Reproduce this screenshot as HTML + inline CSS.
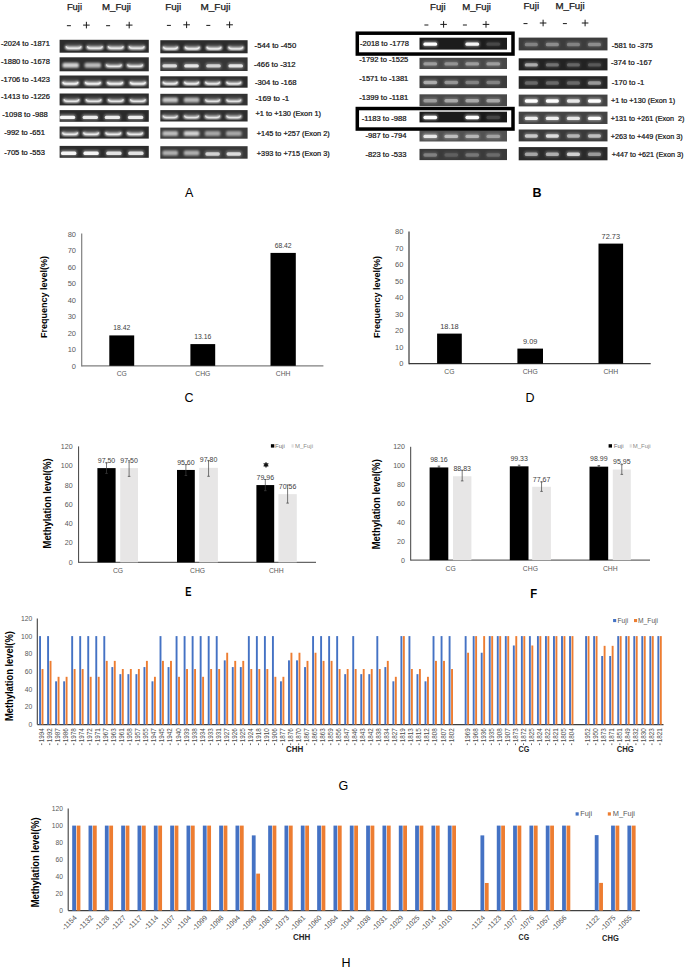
<!DOCTYPE html>
<html><head><meta charset="utf-8"><title>Figure</title>
<style>html,body{margin:0;padding:0;background:#fff;} body{width:685px;height:969px;overflow:hidden;font-family:"Liberation Sans", sans-serif;}
text{font-family:"Liberation Sans", sans-serif;}</style></head>
<body><svg width="685" height="969" viewBox="0 0 685 969" style='display:block;font-family:"Liberation Sans", sans-serif'><defs><filter id="b1" x="-50%" y="-100%" width="200%" height="300%"><feGaussianBlur stdDeviation="0.75"/></filter><filter id="b2" x="-50%" y="-100%" width="200%" height="300%"><feGaussianBlur stdDeviation="1.2"/></filter><linearGradient id="gg" x1="0" y1="0" x2="0" y2="1"><stop offset="0" stop-color="#fff" stop-opacity="0"/><stop offset="1" stop-color="#fff" stop-opacity="0.55"/></linearGradient></defs><text x="66.90" y="10.40" font-size="8.6" text-anchor="start" fill="#1a1a1a" font-weight="normal"  textLength="15.10" lengthAdjust="spacingAndGlyphs" stroke="#1a1a1a" stroke-width="0.25">Fuji</text>
<text x="102.00" y="10.40" font-size="8.6" text-anchor="start" fill="#1a1a1a" font-weight="normal"  textLength="29.00" lengthAdjust="spacingAndGlyphs" stroke="#1a1a1a" stroke-width="0.25">M_Fuji</text>
<line x1="66.90" y1="25.70" x2="70.90" y2="25.70" stroke="#1a1a1a" stroke-width="1"/>
<path d="M83.10,25.10H89.70M86.40,21.80V28.40" stroke="#1a1a1a" stroke-width="1" fill="none"/>
<line x1="106.10" y1="25.70" x2="110.10" y2="25.70" stroke="#1a1a1a" stroke-width="1"/>
<path d="M125.90,25.10H132.50M129.20,21.80V28.40" stroke="#1a1a1a" stroke-width="1" fill="none"/>
<text x="165.30" y="10.40" font-size="8.6" text-anchor="start" fill="#1a1a1a" font-weight="normal"  textLength="16.00" lengthAdjust="spacingAndGlyphs" stroke="#1a1a1a" stroke-width="0.25">Fuji</text>
<text x="200.50" y="10.40" font-size="8.6" text-anchor="start" fill="#1a1a1a" font-weight="normal"  textLength="29.90" lengthAdjust="spacingAndGlyphs" stroke="#1a1a1a" stroke-width="0.25">M_Fuji</text>
<line x1="166.90" y1="25.40" x2="170.90" y2="25.40" stroke="#1a1a1a" stroke-width="1"/>
<path d="M183.30,24.80H189.90M186.60,21.50V28.10" stroke="#1a1a1a" stroke-width="1" fill="none"/>
<line x1="206.30" y1="25.40" x2="210.30" y2="25.40" stroke="#1a1a1a" stroke-width="1"/>
<path d="M226.30,24.80H232.90M229.60,21.50V28.10" stroke="#1a1a1a" stroke-width="1" fill="none"/>
<text x="430.00" y="10.00" font-size="8.6" text-anchor="start" fill="#1a1a1a" font-weight="normal"  textLength="15.60" lengthAdjust="spacingAndGlyphs" stroke="#1a1a1a" stroke-width="0.25">Fuji</text>
<text x="462.20" y="10.00" font-size="8.6" text-anchor="start" fill="#1a1a1a" font-weight="normal"  textLength="28.80" lengthAdjust="spacingAndGlyphs" stroke="#1a1a1a" stroke-width="0.25">M_Fuji</text>
<line x1="424.40" y1="25.00" x2="428.40" y2="25.00" stroke="#1a1a1a" stroke-width="1"/>
<path d="M440.30,24.40H446.90M443.60,21.10V27.70" stroke="#1a1a1a" stroke-width="1" fill="none"/>
<line x1="462.90" y1="25.00" x2="466.90" y2="25.00" stroke="#1a1a1a" stroke-width="1"/>
<path d="M482.70,24.40H489.30M486.00,21.10V27.70" stroke="#1a1a1a" stroke-width="1" fill="none"/>
<text x="523.40" y="8.70" font-size="8.6" text-anchor="start" fill="#1a1a1a" font-weight="normal"  textLength="15.80" lengthAdjust="spacingAndGlyphs" stroke="#1a1a1a" stroke-width="0.25">Fuji</text>
<text x="555.40" y="8.70" font-size="8.6" text-anchor="start" fill="#1a1a1a" font-weight="normal"  textLength="29.20" lengthAdjust="spacingAndGlyphs" stroke="#1a1a1a" stroke-width="0.25">M_Fuji</text>
<line x1="523.50" y1="23.60" x2="527.50" y2="23.60" stroke="#1a1a1a" stroke-width="1"/>
<path d="M539.80,23.00H546.40M543.10,19.70V26.30" stroke="#1a1a1a" stroke-width="1" fill="none"/>
<line x1="562.90" y1="23.60" x2="566.90" y2="23.60" stroke="#1a1a1a" stroke-width="1"/>
<path d="M581.80,23.00H588.40M585.10,19.70V26.30" stroke="#1a1a1a" stroke-width="1" fill="none"/>
<rect x="59.60" y="39.80" width="89.20" height="12.90" fill="#2c2c2c"/>
<rect x="65.30" y="42.66" width="16.59" height="6.6" rx="1.5" fill="url(#gg)" opacity="0.90" filter="url(#b2)"/>
<path d="M66.10,46.16 Q66.50,48.36 69.40,48.26 L77.80,48.26 Q80.70,48.36 81.10,46.16" fill="none" stroke="#fff" stroke-width="2.8" opacity="0.81" filter="url(#b2)"/>
<path d="M66.10,46.16 Q66.50,48.36 69.40,48.26 L77.80,48.26 Q80.70,48.36 81.10,46.16" fill="none" stroke="#fff" stroke-width="1.2" opacity="0.63" filter="url(#b1)"/>
<rect x="86.60" y="42.66" width="16.59" height="6.6" rx="1.5" fill="url(#gg)" opacity="0.90" filter="url(#b2)"/>
<path d="M87.40,46.16 Q87.80,48.36 90.70,48.26 L99.10,48.26 Q102.00,48.36 102.40,46.16" fill="none" stroke="#fff" stroke-width="2.8" opacity="0.81" filter="url(#b2)"/>
<path d="M87.40,46.16 Q87.80,48.36 90.70,48.26 L99.10,48.26 Q102.00,48.36 102.40,46.16" fill="none" stroke="#fff" stroke-width="1.2" opacity="0.63" filter="url(#b1)"/>
<rect x="107.40" y="42.66" width="16.59" height="6.6" rx="1.5" fill="url(#gg)" opacity="0.90" filter="url(#b2)"/>
<path d="M108.20,46.16 Q108.60,48.36 111.50,48.26 L119.90,48.26 Q122.80,48.36 123.20,46.16" fill="none" stroke="#fff" stroke-width="2.8" opacity="0.81" filter="url(#b2)"/>
<path d="M108.20,46.16 Q108.60,48.36 111.50,48.26 L119.90,48.26 Q122.80,48.36 123.20,46.16" fill="none" stroke="#fff" stroke-width="1.2" opacity="0.63" filter="url(#b1)"/>
<rect x="128.40" y="42.66" width="16.59" height="6.6" rx="1.5" fill="url(#gg)" opacity="0.90" filter="url(#b2)"/>
<path d="M129.20,46.16 Q129.60,48.36 132.50,48.26 L140.90,48.26 Q143.80,48.36 144.20,46.16" fill="none" stroke="#fff" stroke-width="2.8" opacity="0.81" filter="url(#b2)"/>
<path d="M129.20,46.16 Q129.60,48.36 132.50,48.26 L140.90,48.26 Q143.80,48.36 144.20,46.16" fill="none" stroke="#fff" stroke-width="1.2" opacity="0.63" filter="url(#b1)"/>
<rect x="59.60" y="57.30" width="89.20" height="14.00" fill="#2e2e2e"/>
<rect x="62.50" y="62.66" width="16.39" height="5" rx="1.5" fill="#fff" opacity="0.79" filter="url(#b2)"/>
<rect x="84.60" y="62.66" width="16.39" height="5" rx="1.5" fill="#fff" opacity="0.68" filter="url(#b2)"/>
<rect x="105.60" y="60.86" width="16.59" height="6.6" rx="1.5" fill="url(#gg)" opacity="0.85" filter="url(#b2)"/>
<path d="M106.40,64.36 Q106.80,66.56 109.70,66.46 L118.10,66.46 Q121.00,66.56 121.40,64.36" fill="none" stroke="#fff" stroke-width="2.8" opacity="0.77" filter="url(#b2)"/>
<path d="M106.40,64.36 Q106.80,66.56 109.70,66.46 L118.10,66.46 Q121.00,66.56 121.40,64.36" fill="none" stroke="#fff" stroke-width="1.2" opacity="0.59" filter="url(#b1)"/>
<rect x="126.80" y="60.86" width="16.59" height="6.6" rx="1.5" fill="url(#gg)" opacity="0.85" filter="url(#b2)"/>
<path d="M127.60,64.36 Q128.00,66.56 130.90,66.46 L139.30,66.46 Q142.20,66.56 142.60,64.36" fill="none" stroke="#fff" stroke-width="2.8" opacity="0.77" filter="url(#b2)"/>
<path d="M127.60,64.36 Q128.00,66.56 130.90,66.46 L139.30,66.46 Q142.20,66.56 142.60,64.36" fill="none" stroke="#fff" stroke-width="1.2" opacity="0.59" filter="url(#b1)"/>
<rect x="59.60" y="75.50" width="89.20" height="12.90" fill="#303030"/>
<rect x="62.10" y="78.36" width="16.59" height="6.6" rx="1.5" fill="url(#gg)" opacity="1.00" filter="url(#b2)"/>
<path d="M62.90,81.86 Q63.30,84.06 66.20,83.96 L74.60,83.96 Q77.50,84.06 77.90,81.86" fill="none" stroke="#fff" stroke-width="2.8" opacity="0.90" filter="url(#b2)"/>
<path d="M62.90,81.86 Q63.30,84.06 66.20,83.96 L74.60,83.96 Q77.50,84.06 77.90,81.86" fill="none" stroke="#fff" stroke-width="1.2" opacity="0.70" filter="url(#b1)"/>
<rect x="84.60" y="78.36" width="16.59" height="6.6" rx="1.5" fill="url(#gg)" opacity="1.00" filter="url(#b2)"/>
<path d="M85.40,81.86 Q85.80,84.06 88.70,83.96 L97.10,83.96 Q100.00,84.06 100.40,81.86" fill="none" stroke="#fff" stroke-width="2.8" opacity="0.90" filter="url(#b2)"/>
<path d="M85.40,81.86 Q85.80,84.06 88.70,83.96 L97.10,83.96 Q100.00,84.06 100.40,81.86" fill="none" stroke="#fff" stroke-width="1.2" opacity="0.70" filter="url(#b1)"/>
<rect x="106.80" y="78.36" width="16.59" height="6.6" rx="1.5" fill="url(#gg)" opacity="1.00" filter="url(#b2)"/>
<path d="M107.60,81.86 Q108.00,84.06 110.90,83.96 L119.30,83.96 Q122.20,84.06 122.60,81.86" fill="none" stroke="#fff" stroke-width="2.8" opacity="0.90" filter="url(#b2)"/>
<path d="M107.60,81.86 Q108.00,84.06 110.90,83.96 L119.30,83.96 Q122.20,84.06 122.60,81.86" fill="none" stroke="#fff" stroke-width="1.2" opacity="0.70" filter="url(#b1)"/>
<rect x="129.60" y="78.36" width="16.59" height="6.6" rx="1.5" fill="url(#gg)" opacity="1.00" filter="url(#b2)"/>
<path d="M130.40,81.86 Q130.80,84.06 133.70,83.96 L142.10,83.96 Q145.00,84.06 145.40,81.86" fill="none" stroke="#fff" stroke-width="2.8" opacity="0.90" filter="url(#b2)"/>
<path d="M130.40,81.86 Q130.80,84.06 133.70,83.96 L142.10,83.96 Q145.00,84.06 145.40,81.86" fill="none" stroke="#fff" stroke-width="1.2" opacity="0.70" filter="url(#b1)"/>
<rect x="59.60" y="93.50" width="89.20" height="11.90" fill="#2c2c2c"/>
<rect x="63.20" y="95.72" width="16.59" height="6.6" rx="1.5" fill="url(#gg)" opacity="0.85" filter="url(#b2)"/>
<path d="M64.00,99.22 Q64.40,101.42 67.30,101.32 L75.70,101.32 Q78.60,101.42 79.00,99.22" fill="none" stroke="#fff" stroke-width="2.8" opacity="0.77" filter="url(#b2)"/>
<path d="M64.00,99.22 Q64.40,101.42 67.30,101.32 L75.70,101.32 Q78.60,101.42 79.00,99.22" fill="none" stroke="#fff" stroke-width="1.2" opacity="0.59" filter="url(#b1)"/>
<rect x="85.30" y="95.72" width="16.59" height="6.6" rx="1.5" fill="url(#gg)" opacity="0.85" filter="url(#b2)"/>
<path d="M86.10,99.22 Q86.50,101.42 89.40,101.32 L97.80,101.32 Q100.70,101.42 101.10,99.22" fill="none" stroke="#fff" stroke-width="2.8" opacity="0.77" filter="url(#b2)"/>
<path d="M86.10,99.22 Q86.50,101.42 89.40,101.32 L97.80,101.32 Q100.70,101.42 101.10,99.22" fill="none" stroke="#fff" stroke-width="1.2" opacity="0.59" filter="url(#b1)"/>
<rect x="107.50" y="95.72" width="16.59" height="6.6" rx="1.5" fill="url(#gg)" opacity="0.85" filter="url(#b2)"/>
<path d="M108.30,99.22 Q108.70,101.42 111.60,101.32 L120.00,101.32 Q122.90,101.42 123.30,99.22" fill="none" stroke="#fff" stroke-width="2.8" opacity="0.77" filter="url(#b2)"/>
<path d="M108.30,99.22 Q108.70,101.42 111.60,101.32 L120.00,101.32 Q122.90,101.42 123.30,99.22" fill="none" stroke="#fff" stroke-width="1.2" opacity="0.59" filter="url(#b1)"/>
<rect x="129.60" y="95.72" width="16.59" height="6.6" rx="1.5" fill="url(#gg)" opacity="0.85" filter="url(#b2)"/>
<path d="M130.40,99.22 Q130.80,101.42 133.70,101.32 L142.10,101.32 Q145.00,101.42 145.40,99.22" fill="none" stroke="#fff" stroke-width="2.8" opacity="0.77" filter="url(#b2)"/>
<path d="M130.40,99.22 Q130.80,101.42 133.70,101.32 L142.10,101.32 Q145.00,101.42 145.40,99.22" fill="none" stroke="#fff" stroke-width="1.2" opacity="0.59" filter="url(#b1)"/>
<rect x="59.60" y="110.10" width="89.20" height="11.70" fill="#2a2a2a"/>
<rect x="59.10" y="114.19" width="16.79" height="6" rx="2" fill="#fff" opacity="0.38" filter="url(#b2)"/>
<rect x="59.80" y="115.69" width="15.39" height="3.4" rx="1.6" fill="#fff" opacity="0.94" filter="url(#b1)"/>
<rect x="81.90" y="114.19" width="16.79" height="6" rx="2" fill="#fff" opacity="0.36" filter="url(#b2)"/>
<rect x="82.60" y="115.69" width="15.39" height="3.4" rx="1.6" fill="#fff" opacity="0.87" filter="url(#b1)"/>
<rect x="104.00" y="114.19" width="16.79" height="6" rx="2" fill="#fff" opacity="0.36" filter="url(#b2)"/>
<rect x="104.70" y="115.69" width="15.39" height="3.4" rx="1.6" fill="#fff" opacity="0.87" filter="url(#b1)"/>
<rect x="127.20" y="114.19" width="16.79" height="6" rx="2" fill="#fff" opacity="0.36" filter="url(#b2)"/>
<rect x="127.90" y="115.69" width="15.39" height="3.4" rx="1.6" fill="#fff" opacity="0.87" filter="url(#b1)"/>
<rect x="59.60" y="126.50" width="89.20" height="12.10" fill="#2c2c2c"/>
<rect x="61.80" y="128.84" width="16.59" height="6.6" rx="1.5" fill="url(#gg)" opacity="0.90" filter="url(#b2)"/>
<path d="M62.60,132.34 Q63.00,134.54 65.90,134.44 L74.30,134.44 Q77.20,134.54 77.60,132.34" fill="none" stroke="#fff" stroke-width="2.8" opacity="0.81" filter="url(#b2)"/>
<path d="M62.60,132.34 Q63.00,134.54 65.90,134.44 L74.30,134.44 Q77.20,134.54 77.60,132.34" fill="none" stroke="#fff" stroke-width="1.2" opacity="0.63" filter="url(#b1)"/>
<rect x="82.80" y="128.84" width="16.59" height="6.6" rx="1.5" fill="url(#gg)" opacity="0.90" filter="url(#b2)"/>
<path d="M83.60,132.34 Q84.00,134.54 86.90,134.44 L95.30,134.44 Q98.20,134.54 98.60,132.34" fill="none" stroke="#fff" stroke-width="2.8" opacity="0.81" filter="url(#b2)"/>
<path d="M83.60,132.34 Q84.00,134.54 86.90,134.44 L95.30,134.44 Q98.20,134.54 98.60,132.34" fill="none" stroke="#fff" stroke-width="1.2" opacity="0.63" filter="url(#b1)"/>
<rect x="105.00" y="128.84" width="16.59" height="6.6" rx="1.5" fill="url(#gg)" opacity="0.90" filter="url(#b2)"/>
<path d="M105.80,132.34 Q106.20,134.54 109.10,134.44 L117.50,134.44 Q120.40,134.54 120.80,132.34" fill="none" stroke="#fff" stroke-width="2.8" opacity="0.81" filter="url(#b2)"/>
<path d="M105.80,132.34 Q106.20,134.54 109.10,134.44 L117.50,134.44 Q120.40,134.54 120.80,132.34" fill="none" stroke="#fff" stroke-width="1.2" opacity="0.63" filter="url(#b1)"/>
<rect x="126.80" y="128.84" width="16.59" height="6.6" rx="1.5" fill="url(#gg)" opacity="0.90" filter="url(#b2)"/>
<path d="M127.60,132.34 Q128.00,134.54 130.90,134.44 L139.30,134.44 Q142.20,134.54 142.60,132.34" fill="none" stroke="#fff" stroke-width="2.8" opacity="0.81" filter="url(#b2)"/>
<path d="M127.60,132.34 Q128.00,134.54 130.90,134.44 L139.30,134.44 Q142.20,134.54 142.60,132.34" fill="none" stroke="#fff" stroke-width="1.2" opacity="0.63" filter="url(#b1)"/>
<rect x="59.60" y="145.90" width="89.20" height="11.90" fill="#2c2c2c"/>
<rect x="60.30" y="150.12" width="16.79" height="6" rx="2" fill="#fff" opacity="0.38" filter="url(#b2)"/>
<rect x="61.00" y="151.62" width="15.39" height="3.4" rx="1.6" fill="#fff" opacity="0.94" filter="url(#b1)"/>
<rect x="82.70" y="150.12" width="16.79" height="6" rx="2" fill="#fff" opacity="0.38" filter="url(#b2)"/>
<rect x="83.40" y="151.62" width="15.39" height="3.4" rx="1.6" fill="#fff" opacity="0.94" filter="url(#b1)"/>
<rect x="105.50" y="150.12" width="16.79" height="6" rx="2" fill="#fff" opacity="0.34" filter="url(#b2)"/>
<rect x="106.20" y="151.62" width="15.39" height="3.4" rx="1.6" fill="#fff" opacity="0.81" filter="url(#b1)"/>
<rect x="127.50" y="150.12" width="16.79" height="6" rx="2" fill="#fff" opacity="0.34" filter="url(#b2)"/>
<rect x="128.20" y="151.62" width="15.39" height="3.4" rx="1.6" fill="#fff" opacity="0.81" filter="url(#b1)"/>
<rect x="160.30" y="40.20" width="87.30" height="13.10" fill="#2c2c2c"/>
<rect x="162.61" y="43.18" width="15.79" height="6.6" rx="1.5" fill="url(#gg)" opacity="0.95" filter="url(#b2)"/>
<path d="M163.41,46.68 Q163.81,48.88 166.71,48.78 L174.29,48.78 Q177.19,48.88 177.59,46.68" fill="none" stroke="#fff" stroke-width="2.8" opacity="0.85" filter="url(#b2)"/>
<path d="M163.41,46.68 Q163.81,48.88 166.71,48.78 L174.29,48.78 Q177.19,48.88 177.59,46.68" fill="none" stroke="#fff" stroke-width="1.2" opacity="0.66" filter="url(#b1)"/>
<rect x="184.41" y="43.18" width="15.79" height="6.6" rx="1.5" fill="url(#gg)" opacity="0.95" filter="url(#b2)"/>
<path d="M185.21,46.68 Q185.61,48.88 188.51,48.78 L196.09,48.78 Q198.99,48.88 199.39,46.68" fill="none" stroke="#fff" stroke-width="2.8" opacity="0.85" filter="url(#b2)"/>
<path d="M185.21,46.68 Q185.61,48.88 188.51,48.78 L196.09,48.78 Q198.99,48.88 199.39,46.68" fill="none" stroke="#fff" stroke-width="1.2" opacity="0.66" filter="url(#b1)"/>
<rect x="206.11" y="43.18" width="15.79" height="6.6" rx="1.5" fill="url(#gg)" opacity="0.95" filter="url(#b2)"/>
<path d="M206.91,46.68 Q207.31,48.88 210.21,48.78 L217.79,48.78 Q220.69,48.88 221.09,46.68" fill="none" stroke="#fff" stroke-width="2.8" opacity="0.85" filter="url(#b2)"/>
<path d="M206.91,46.68 Q207.31,48.88 210.21,48.78 L217.79,48.78 Q220.69,48.88 221.09,46.68" fill="none" stroke="#fff" stroke-width="1.2" opacity="0.66" filter="url(#b1)"/>
<rect x="227.91" y="43.18" width="15.79" height="6.6" rx="1.5" fill="url(#gg)" opacity="0.90" filter="url(#b2)"/>
<path d="M228.71,46.68 Q229.11,48.88 232.01,48.78 L239.59,48.78 Q242.49,48.88 242.89,46.68" fill="none" stroke="#fff" stroke-width="2.8" opacity="0.81" filter="url(#b2)"/>
<path d="M228.71,46.68 Q229.11,48.88 232.01,48.78 L239.59,48.78 Q242.49,48.88 242.89,46.68" fill="none" stroke="#fff" stroke-width="1.2" opacity="0.63" filter="url(#b1)"/>
<rect x="160.30" y="57.40" width="87.30" height="13.60" fill="#363636"/>
<rect x="161.71" y="62.70" width="15.99" height="6" rx="2" fill="#fff" opacity="0.32" filter="url(#b2)"/>
<rect x="162.41" y="64.20" width="14.59" height="3.4" rx="1.6" fill="#fff" opacity="0.75" filter="url(#b1)"/>
<rect x="183.51" y="62.70" width="15.99" height="6" rx="2" fill="#fff" opacity="0.34" filter="url(#b2)"/>
<rect x="184.21" y="64.20" width="14.59" height="3.4" rx="1.6" fill="#fff" opacity="0.81" filter="url(#b1)"/>
<rect x="205.51" y="62.70" width="15.99" height="6" rx="2" fill="#fff" opacity="0.30" filter="url(#b2)"/>
<rect x="206.21" y="64.20" width="14.59" height="3.4" rx="1.6" fill="#fff" opacity="0.69" filter="url(#b1)"/>
<rect x="227.71" y="62.70" width="15.99" height="6" rx="2" fill="#fff" opacity="0.34" filter="url(#b2)"/>
<rect x="228.41" y="64.20" width="14.59" height="3.4" rx="1.6" fill="#fff" opacity="0.81" filter="url(#b1)"/>
<rect x="160.30" y="76.30" width="87.30" height="11.40" fill="#2c2c2c"/>
<rect x="162.31" y="78.20" width="15.79" height="6.6" rx="1.5" fill="url(#gg)" opacity="0.95" filter="url(#b2)"/>
<path d="M163.11,81.70 Q163.51,83.90 166.41,83.80 L173.99,83.80 Q176.89,83.90 177.29,81.70" fill="none" stroke="#fff" stroke-width="2.8" opacity="0.85" filter="url(#b2)"/>
<path d="M163.11,81.70 Q163.51,83.90 166.41,83.80 L173.99,83.80 Q176.89,83.90 177.29,81.70" fill="none" stroke="#fff" stroke-width="1.2" opacity="0.66" filter="url(#b1)"/>
<rect x="183.71" y="78.20" width="15.79" height="6.6" rx="1.5" fill="url(#gg)" opacity="0.95" filter="url(#b2)"/>
<path d="M184.51,81.70 Q184.91,83.90 187.81,83.80 L195.39,83.80 Q198.29,83.90 198.69,81.70" fill="none" stroke="#fff" stroke-width="2.8" opacity="0.85" filter="url(#b2)"/>
<path d="M184.51,81.70 Q184.91,83.90 187.81,83.80 L195.39,83.80 Q198.29,83.90 198.69,81.70" fill="none" stroke="#fff" stroke-width="1.2" opacity="0.66" filter="url(#b1)"/>
<rect x="204.71" y="78.20" width="15.79" height="6.6" rx="1.5" fill="url(#gg)" opacity="0.90" filter="url(#b2)"/>
<path d="M205.51,81.70 Q205.91,83.90 208.81,83.80 L216.39,83.80 Q219.29,83.90 219.69,81.70" fill="none" stroke="#fff" stroke-width="2.8" opacity="0.81" filter="url(#b2)"/>
<path d="M205.51,81.70 Q205.91,83.90 208.81,83.80 L216.39,83.80 Q219.29,83.90 219.69,81.70" fill="none" stroke="#fff" stroke-width="1.2" opacity="0.63" filter="url(#b1)"/>
<rect x="225.91" y="78.20" width="15.79" height="6.6" rx="1.5" fill="url(#gg)" opacity="0.90" filter="url(#b2)"/>
<path d="M226.71,81.70 Q227.11,83.90 230.01,83.80 L237.59,83.80 Q240.49,83.90 240.89,81.70" fill="none" stroke="#fff" stroke-width="2.8" opacity="0.81" filter="url(#b2)"/>
<path d="M226.71,81.70 Q227.11,83.90 230.01,83.80 L237.59,83.80 Q240.49,83.90 240.89,81.70" fill="none" stroke="#fff" stroke-width="1.2" opacity="0.63" filter="url(#b1)"/>
<rect x="160.30" y="93.80" width="87.30" height="11.60" fill="#333333"/>
<rect x="162.41" y="97.62" width="15.59" height="5" rx="1.5" fill="#fff" opacity="0.72" filter="url(#b2)"/>
<rect x="183.81" y="97.62" width="15.59" height="5" rx="1.5" fill="#fff" opacity="0.66" filter="url(#b2)"/>
<rect x="204.71" y="95.82" width="15.79" height="6.6" rx="1.5" fill="url(#gg)" opacity="0.80" filter="url(#b2)"/>
<path d="M205.51,99.32 Q205.91,101.52 208.81,101.42 L216.39,101.42 Q219.29,101.52 219.69,99.32" fill="none" stroke="#fff" stroke-width="2.8" opacity="0.72" filter="url(#b2)"/>
<path d="M205.51,99.32 Q205.91,101.52 208.81,101.42 L216.39,101.42 Q219.29,101.52 219.69,99.32" fill="none" stroke="#fff" stroke-width="1.2" opacity="0.56" filter="url(#b1)"/>
<rect x="225.91" y="95.82" width="15.79" height="6.6" rx="1.5" fill="url(#gg)" opacity="0.80" filter="url(#b2)"/>
<path d="M226.71,99.32 Q227.11,101.52 230.01,101.42 L237.59,101.42 Q240.49,101.52 240.89,99.32" fill="none" stroke="#fff" stroke-width="2.8" opacity="0.72" filter="url(#b2)"/>
<path d="M226.71,99.32 Q227.11,101.52 230.01,101.42 L237.59,101.42 Q240.49,101.52 240.89,99.32" fill="none" stroke="#fff" stroke-width="1.2" opacity="0.56" filter="url(#b1)"/>
<rect x="160.30" y="110.10" width="87.30" height="11.40" fill="#2e2e2e"/>
<rect x="162.31" y="112.00" width="15.79" height="6.6" rx="1.5" fill="url(#gg)" opacity="0.85" filter="url(#b2)"/>
<path d="M163.11,115.50 Q163.51,117.70 166.41,117.60 L173.99,117.60 Q176.89,117.70 177.29,115.50" fill="none" stroke="#fff" stroke-width="2.8" opacity="0.77" filter="url(#b2)"/>
<path d="M163.11,115.50 Q163.51,117.70 166.41,117.60 L173.99,117.60 Q176.89,117.70 177.29,115.50" fill="none" stroke="#fff" stroke-width="1.2" opacity="0.59" filter="url(#b1)"/>
<rect x="183.71" y="112.00" width="15.79" height="6.6" rx="1.5" fill="url(#gg)" opacity="0.85" filter="url(#b2)"/>
<path d="M184.51,115.50 Q184.91,117.70 187.81,117.60 L195.39,117.60 Q198.29,117.70 198.69,115.50" fill="none" stroke="#fff" stroke-width="2.8" opacity="0.77" filter="url(#b2)"/>
<path d="M184.51,115.50 Q184.91,117.70 187.81,117.60 L195.39,117.60 Q198.29,117.70 198.69,115.50" fill="none" stroke="#fff" stroke-width="1.2" opacity="0.59" filter="url(#b1)"/>
<rect x="204.71" y="112.00" width="15.79" height="6.6" rx="1.5" fill="url(#gg)" opacity="0.85" filter="url(#b2)"/>
<path d="M205.51,115.50 Q205.91,117.70 208.81,117.60 L216.39,117.60 Q219.29,117.70 219.69,115.50" fill="none" stroke="#fff" stroke-width="2.8" opacity="0.77" filter="url(#b2)"/>
<path d="M205.51,115.50 Q205.91,117.70 208.81,117.60 L216.39,117.60 Q219.29,117.70 219.69,115.50" fill="none" stroke="#fff" stroke-width="1.2" opacity="0.59" filter="url(#b1)"/>
<rect x="225.91" y="112.00" width="15.79" height="6.6" rx="1.5" fill="url(#gg)" opacity="0.85" filter="url(#b2)"/>
<path d="M226.71,115.50 Q227.11,117.70 230.01,117.60 L237.59,117.60 Q240.49,117.70 240.89,115.50" fill="none" stroke="#fff" stroke-width="2.8" opacity="0.77" filter="url(#b2)"/>
<path d="M226.71,115.50 Q227.11,117.70 230.01,117.60 L237.59,117.60 Q240.49,117.70 240.89,115.50" fill="none" stroke="#fff" stroke-width="1.2" opacity="0.59" filter="url(#b1)"/>
<rect x="160.30" y="127.60" width="87.30" height="11.10" fill="#3c3c3c"/>
<rect x="162.41" y="131.10" width="15.59" height="5" rx="1.5" fill="#fff" opacity="0.66" filter="url(#b2)"/>
<rect x="183.81" y="131.10" width="15.59" height="5" rx="1.5" fill="#fff" opacity="0.77" filter="url(#b2)"/>
<rect x="204.81" y="131.10" width="15.59" height="5" rx="1.5" fill="#fff" opacity="0.55" filter="url(#b2)"/>
<rect x="226.01" y="131.10" width="15.59" height="5" rx="1.5" fill="#fff" opacity="0.55" filter="url(#b2)"/>
<rect x="160.30" y="146.20" width="87.30" height="12.50" fill="#383838"/>
<rect x="162.41" y="150.60" width="15.59" height="5" rx="1.5" fill="#fff" opacity="0.61" filter="url(#b2)"/>
<rect x="183.81" y="150.60" width="15.59" height="5" rx="1.5" fill="#fff" opacity="0.61" filter="url(#b2)"/>
<rect x="204.61" y="150.80" width="15.99" height="6" rx="2" fill="#fff" opacity="0.30" filter="url(#b2)"/>
<rect x="205.31" y="152.30" width="14.59" height="3.4" rx="1.6" fill="#fff" opacity="0.69" filter="url(#b1)"/>
<rect x="225.81" y="150.80" width="15.99" height="6" rx="2" fill="#fff" opacity="0.32" filter="url(#b2)"/>
<rect x="226.51" y="152.30" width="14.59" height="3.4" rx="1.6" fill="#fff" opacity="0.75" filter="url(#b1)"/>
<text x="1.00" y="46.00" font-size="7.6" text-anchor="start" fill="#111" font-weight="normal"  textLength="49.00" lengthAdjust="spacingAndGlyphs" stroke="#111" stroke-width="0.22">-2024 to -1871</text>
<text x="1.00" y="63.70" font-size="7.6" text-anchor="start" fill="#111" font-weight="normal"  textLength="49.00" lengthAdjust="spacingAndGlyphs" stroke="#111" stroke-width="0.22">-1880 to -1678</text>
<text x="1.00" y="81.70" font-size="7.6" text-anchor="start" fill="#111" font-weight="normal"  textLength="49.00" lengthAdjust="spacingAndGlyphs" stroke="#111" stroke-width="0.22">-1706 to -1423</text>
<text x="1.00" y="99.30" font-size="7.6" text-anchor="start" fill="#111" font-weight="normal"  textLength="49.00" lengthAdjust="spacingAndGlyphs" stroke="#111" stroke-width="0.22">-1413 to -1226</text>
<text x="2.30" y="116.70" font-size="7.6" text-anchor="start" fill="#111" font-weight="normal"  textLength="45.60" lengthAdjust="spacingAndGlyphs" stroke="#111" stroke-width="0.22">-1098 to -988</text>
<text x="4.20" y="134.50" font-size="7.6" text-anchor="start" fill="#111" font-weight="normal"  textLength="40.80" lengthAdjust="spacingAndGlyphs" stroke="#111" stroke-width="0.22">-992 to -651</text>
<text x="4.20" y="154.70" font-size="7.6" text-anchor="start" fill="#111" font-weight="normal"  textLength="40.80" lengthAdjust="spacingAndGlyphs" stroke="#111" stroke-width="0.22">-705 to -553</text>
<text x="254.60" y="47.90" font-size="7.6" text-anchor="start" fill="#111" font-weight="normal"  textLength="41.60" lengthAdjust="spacingAndGlyphs" stroke="#111" stroke-width="0.22">-544 to -450</text>
<text x="254.00" y="67.30" font-size="7.6" text-anchor="start" fill="#111" font-weight="normal"  textLength="41.60" lengthAdjust="spacingAndGlyphs" stroke="#111" stroke-width="0.22">-466 to -312</text>
<text x="254.90" y="85.10" font-size="7.6" text-anchor="start" fill="#111" font-weight="normal"  textLength="41.60" lengthAdjust="spacingAndGlyphs" stroke="#111" stroke-width="0.22">-304 to -168</text>
<text x="255.40" y="101.20" font-size="7.6" text-anchor="start" fill="#111" font-weight="normal"  textLength="33.80" lengthAdjust="spacingAndGlyphs" stroke="#111" stroke-width="0.22">-169 to -1</text>
<text x="255.40" y="116.40" font-size="7.6" text-anchor="start" fill="#111" font-weight="normal"  textLength="65.60" lengthAdjust="spacingAndGlyphs" stroke="#111" stroke-width="0.22">+1 to +130 (Exon 1)</text>
<text x="256.80" y="135.70" font-size="7.6" text-anchor="start" fill="#111" font-weight="normal"  textLength="72.90" lengthAdjust="spacingAndGlyphs" stroke="#111" stroke-width="0.22">+145 to +257 (Exon 2)</text>
<text x="256.80" y="156.10" font-size="7.6" text-anchor="start" fill="#111" font-weight="normal"  textLength="72.90" lengthAdjust="spacingAndGlyphs" stroke="#111" stroke-width="0.22">+393 to +715 (Exon 3)</text>
<rect x="419.50" y="37.70" width="87.50" height="11.90" fill="#1c1c1c"/>
<rect x="422.69" y="40.96" width="15.15" height="6" rx="2" fill="#fff" opacity="0.40" filter="url(#b2)"/>
<rect x="423.39" y="42.46" width="13.75" height="3.4" rx="1.6" fill="#fff" opacity="1.00" filter="url(#b1)"/>
<rect x="464.69" y="40.96" width="15.15" height="6" rx="2" fill="#fff" opacity="0.38" filter="url(#b2)"/>
<rect x="465.39" y="42.46" width="13.75" height="3.4" rx="1.6" fill="#fff" opacity="0.94" filter="url(#b1)"/>
<rect x="485.69" y="40.96" width="15.15" height="6" rx="2" fill="#fff" opacity="0.08" filter="url(#b2)"/>
<rect x="486.39" y="42.46" width="13.75" height="3.4" rx="1.6" fill="#fff" opacity="0.12" filter="url(#b1)"/>
<rect x="419.50" y="57.80" width="87.50" height="11.20" fill="#484848"/>
<rect x="422.69" y="60.67" width="15.15" height="6" rx="2" fill="#fff" opacity="0.18" filter="url(#b2)"/>
<rect x="423.39" y="62.17" width="13.75" height="3.4" rx="1.6" fill="#fff" opacity="0.35" filter="url(#b1)"/>
<rect x="443.69" y="60.67" width="15.15" height="6" rx="2" fill="#fff" opacity="0.16" filter="url(#b2)"/>
<rect x="444.39" y="62.17" width="13.75" height="3.4" rx="1.6" fill="#fff" opacity="0.30" filter="url(#b1)"/>
<rect x="464.69" y="60.67" width="15.15" height="6" rx="2" fill="#fff" opacity="0.18" filter="url(#b2)"/>
<rect x="465.39" y="62.17" width="13.75" height="3.4" rx="1.6" fill="#fff" opacity="0.35" filter="url(#b1)"/>
<rect x="485.69" y="60.67" width="15.15" height="6" rx="2" fill="#fff" opacity="0.18" filter="url(#b2)"/>
<rect x="486.39" y="62.17" width="13.75" height="3.4" rx="1.6" fill="#fff" opacity="0.35" filter="url(#b1)"/>
<rect x="419.50" y="75.70" width="87.50" height="12.40" fill="#3c3c3c"/>
<rect x="422.69" y="79.24" width="15.15" height="6" rx="2" fill="#fff" opacity="0.22" filter="url(#b2)"/>
<rect x="423.39" y="80.74" width="13.75" height="3.4" rx="1.6" fill="#fff" opacity="0.46" filter="url(#b1)"/>
<rect x="443.69" y="79.24" width="15.15" height="6" rx="2" fill="#fff" opacity="0.18" filter="url(#b2)"/>
<rect x="444.39" y="80.74" width="13.75" height="3.4" rx="1.6" fill="#fff" opacity="0.35" filter="url(#b1)"/>
<rect x="464.69" y="79.24" width="15.15" height="6" rx="2" fill="#fff" opacity="0.14" filter="url(#b2)"/>
<rect x="465.39" y="80.74" width="13.75" height="3.4" rx="1.6" fill="#fff" opacity="0.26" filter="url(#b1)"/>
<rect x="485.69" y="79.24" width="15.15" height="6" rx="2" fill="#fff" opacity="0.14" filter="url(#b2)"/>
<rect x="486.39" y="80.74" width="13.75" height="3.4" rx="1.6" fill="#fff" opacity="0.26" filter="url(#b1)"/>
<rect x="419.50" y="94.30" width="87.50" height="11.90" fill="#4a4a4a"/>
<rect x="422.69" y="97.56" width="15.15" height="6" rx="2" fill="#fff" opacity="0.18" filter="url(#b2)"/>
<rect x="423.39" y="99.06" width="13.75" height="3.4" rx="1.6" fill="#fff" opacity="0.35" filter="url(#b1)"/>
<rect x="443.69" y="97.56" width="15.15" height="6" rx="2" fill="#fff" opacity="0.20" filter="url(#b2)"/>
<rect x="444.39" y="99.06" width="13.75" height="3.4" rx="1.6" fill="#fff" opacity="0.41" filter="url(#b1)"/>
<rect x="464.69" y="97.56" width="15.15" height="6" rx="2" fill="#fff" opacity="0.20" filter="url(#b2)"/>
<rect x="465.39" y="99.06" width="13.75" height="3.4" rx="1.6" fill="#fff" opacity="0.41" filter="url(#b1)"/>
<rect x="485.69" y="97.56" width="15.15" height="6" rx="2" fill="#fff" opacity="0.20" filter="url(#b2)"/>
<rect x="486.39" y="99.06" width="13.75" height="3.4" rx="1.6" fill="#fff" opacity="0.41" filter="url(#b1)"/>
<rect x="419.50" y="111.70" width="87.50" height="10.70" fill="#1a1a1a"/>
<rect x="422.69" y="114.29" width="15.15" height="6" rx="2" fill="#fff" opacity="0.40" filter="url(#b2)"/>
<rect x="423.39" y="115.79" width="13.75" height="3.4" rx="1.6" fill="#fff" opacity="1.00" filter="url(#b1)"/>
<rect x="464.69" y="114.29" width="15.15" height="6" rx="2" fill="#fff" opacity="0.40" filter="url(#b2)"/>
<rect x="465.39" y="115.79" width="13.75" height="3.4" rx="1.6" fill="#fff" opacity="1.00" filter="url(#b1)"/>
<rect x="485.69" y="114.29" width="15.15" height="6" rx="2" fill="#fff" opacity="0.08" filter="url(#b2)"/>
<rect x="486.39" y="115.79" width="13.75" height="3.4" rx="1.6" fill="#fff" opacity="0.12" filter="url(#b1)"/>
<rect x="419.50" y="130.30" width="87.50" height="11.20" fill="#525252"/>
<rect x="422.69" y="133.17" width="15.15" height="6" rx="2" fill="#fff" opacity="0.34" filter="url(#b2)"/>
<rect x="423.39" y="134.67" width="13.75" height="3.4" rx="1.6" fill="#fff" opacity="0.81" filter="url(#b1)"/>
<rect x="443.69" y="133.17" width="15.15" height="6" rx="2" fill="#fff" opacity="0.24" filter="url(#b2)"/>
<rect x="444.39" y="134.67" width="13.75" height="3.4" rx="1.6" fill="#fff" opacity="0.51" filter="url(#b1)"/>
<rect x="464.69" y="133.17" width="15.15" height="6" rx="2" fill="#fff" opacity="0.22" filter="url(#b2)"/>
<rect x="465.39" y="134.67" width="13.75" height="3.4" rx="1.6" fill="#fff" opacity="0.46" filter="url(#b1)"/>
<rect x="485.69" y="133.17" width="15.15" height="6" rx="2" fill="#fff" opacity="0.18" filter="url(#b2)"/>
<rect x="486.39" y="134.67" width="13.75" height="3.4" rx="1.6" fill="#fff" opacity="0.35" filter="url(#b1)"/>
<rect x="419.50" y="148.90" width="87.50" height="11.20" fill="#3a3a3a"/>
<rect x="422.69" y="151.77" width="15.15" height="6" rx="2" fill="#fff" opacity="0.14" filter="url(#b2)"/>
<rect x="423.39" y="153.27" width="13.75" height="3.4" rx="1.6" fill="#fff" opacity="0.26" filter="url(#b1)"/>
<rect x="443.69" y="151.77" width="15.15" height="6" rx="2" fill="#fff" opacity="0.08" filter="url(#b2)"/>
<rect x="444.39" y="153.27" width="13.75" height="3.4" rx="1.6" fill="#fff" opacity="0.12" filter="url(#b1)"/>
<rect x="464.69" y="151.77" width="15.15" height="6" rx="2" fill="#fff" opacity="0.12" filter="url(#b2)"/>
<rect x="465.39" y="153.27" width="13.75" height="3.4" rx="1.6" fill="#fff" opacity="0.21" filter="url(#b1)"/>
<rect x="485.69" y="151.77" width="15.15" height="6" rx="2" fill="#fff" opacity="0.10" filter="url(#b2)"/>
<rect x="486.39" y="153.27" width="13.75" height="3.4" rx="1.6" fill="#fff" opacity="0.16" filter="url(#b1)"/>
<rect x="518.70" y="37.60" width="88.80" height="12.80" fill="#3c3c3c"/>
<rect x="524.06" y="41.37" width="14.50" height="6" rx="2" fill="#fff" opacity="0.14" filter="url(#b2)"/>
<rect x="524.76" y="42.87" width="13.10" height="3.4" rx="1.6" fill="#fff" opacity="0.26" filter="url(#b1)"/>
<rect x="545.11" y="41.37" width="14.50" height="6" rx="2" fill="#fff" opacity="0.16" filter="url(#b2)"/>
<rect x="545.81" y="42.87" width="13.10" height="3.4" rx="1.6" fill="#fff" opacity="0.30" filter="url(#b1)"/>
<rect x="566.15" y="41.37" width="14.50" height="6" rx="2" fill="#fff" opacity="0.14" filter="url(#b2)"/>
<rect x="566.85" y="42.87" width="13.10" height="3.4" rx="1.6" fill="#fff" opacity="0.26" filter="url(#b1)"/>
<rect x="587.20" y="41.37" width="14.50" height="6" rx="2" fill="#fff" opacity="0.16" filter="url(#b2)"/>
<rect x="587.90" y="42.87" width="13.10" height="3.4" rx="1.6" fill="#fff" opacity="0.30" filter="url(#b1)"/>
<rect x="518.70" y="58.30" width="88.80" height="12.10" fill="#222222"/>
<rect x="524.06" y="61.68" width="14.50" height="6" rx="2" fill="#fff" opacity="0.24" filter="url(#b2)"/>
<rect x="524.76" y="63.18" width="13.10" height="3.4" rx="1.6" fill="#fff" opacity="0.51" filter="url(#b1)"/>
<rect x="545.11" y="61.68" width="14.50" height="6" rx="2" fill="#fff" opacity="0.14" filter="url(#b2)"/>
<rect x="545.81" y="63.18" width="13.10" height="3.4" rx="1.6" fill="#fff" opacity="0.26" filter="url(#b1)"/>
<rect x="566.15" y="61.68" width="14.50" height="6" rx="2" fill="#fff" opacity="0.12" filter="url(#b2)"/>
<rect x="566.85" y="63.18" width="13.10" height="3.4" rx="1.6" fill="#fff" opacity="0.21" filter="url(#b1)"/>
<rect x="587.20" y="61.68" width="14.50" height="6" rx="2" fill="#fff" opacity="0.10" filter="url(#b2)"/>
<rect x="587.90" y="63.18" width="13.10" height="3.4" rx="1.6" fill="#fff" opacity="0.16" filter="url(#b1)"/>
<rect x="518.70" y="76.20" width="88.80" height="12.60" fill="#262626"/>
<rect x="524.06" y="79.86" width="14.50" height="6" rx="2" fill="#fff" opacity="0.12" filter="url(#b2)"/>
<rect x="524.76" y="81.36" width="13.10" height="3.4" rx="1.6" fill="#fff" opacity="0.21" filter="url(#b1)"/>
<rect x="545.11" y="79.86" width="14.50" height="6" rx="2" fill="#fff" opacity="0.12" filter="url(#b2)"/>
<rect x="545.81" y="81.36" width="13.10" height="3.4" rx="1.6" fill="#fff" opacity="0.21" filter="url(#b1)"/>
<rect x="566.15" y="79.86" width="14.50" height="6" rx="2" fill="#fff" opacity="0.12" filter="url(#b2)"/>
<rect x="566.85" y="81.36" width="13.10" height="3.4" rx="1.6" fill="#fff" opacity="0.21" filter="url(#b1)"/>
<rect x="587.20" y="79.86" width="14.50" height="6" rx="2" fill="#fff" opacity="0.20" filter="url(#b2)"/>
<rect x="587.90" y="81.36" width="13.10" height="3.4" rx="1.6" fill="#fff" opacity="0.41" filter="url(#b1)"/>
<rect x="518.70" y="94.60" width="88.80" height="11.80" fill="#444444"/>
<rect x="524.06" y="97.81" width="14.50" height="6" rx="2" fill="#fff" opacity="0.40" filter="url(#b2)"/>
<rect x="524.76" y="99.31" width="13.10" height="3.4" rx="1.6" fill="#fff" opacity="1.00" filter="url(#b1)"/>
<rect x="545.11" y="97.81" width="14.50" height="6" rx="2" fill="#fff" opacity="0.40" filter="url(#b2)"/>
<rect x="545.81" y="99.31" width="13.10" height="3.4" rx="1.6" fill="#fff" opacity="1.00" filter="url(#b1)"/>
<rect x="566.15" y="97.81" width="14.50" height="6" rx="2" fill="#fff" opacity="0.34" filter="url(#b2)"/>
<rect x="566.85" y="99.31" width="13.10" height="3.4" rx="1.6" fill="#fff" opacity="0.81" filter="url(#b1)"/>
<rect x="587.20" y="97.81" width="14.50" height="6" rx="2" fill="#fff" opacity="0.40" filter="url(#b2)"/>
<rect x="587.90" y="99.31" width="13.10" height="3.4" rx="1.6" fill="#fff" opacity="1.00" filter="url(#b1)"/>
<rect x="518.70" y="111.70" width="88.80" height="12.30" fill="#444444"/>
<rect x="524.06" y="115.19" width="14.50" height="6" rx="2" fill="#fff" opacity="0.36" filter="url(#b2)"/>
<rect x="524.76" y="116.69" width="13.10" height="3.4" rx="1.6" fill="#fff" opacity="0.87" filter="url(#b1)"/>
<rect x="545.11" y="115.19" width="14.50" height="6" rx="2" fill="#fff" opacity="0.36" filter="url(#b2)"/>
<rect x="545.81" y="116.69" width="13.10" height="3.4" rx="1.6" fill="#fff" opacity="0.87" filter="url(#b1)"/>
<rect x="566.15" y="115.19" width="14.50" height="6" rx="2" fill="#fff" opacity="0.34" filter="url(#b2)"/>
<rect x="566.85" y="116.69" width="13.10" height="3.4" rx="1.6" fill="#fff" opacity="0.81" filter="url(#b1)"/>
<rect x="587.20" y="115.19" width="14.50" height="6" rx="2" fill="#fff" opacity="0.40" filter="url(#b2)"/>
<rect x="587.90" y="116.69" width="13.10" height="3.4" rx="1.6" fill="#fff" opacity="1.00" filter="url(#b1)"/>
<rect x="518.70" y="129.50" width="88.80" height="11.90" fill="#3a3a3a"/>
<rect x="524.06" y="132.76" width="14.50" height="6" rx="2" fill="#fff" opacity="0.28" filter="url(#b2)"/>
<rect x="524.76" y="134.26" width="13.10" height="3.4" rx="1.6" fill="#fff" opacity="0.63" filter="url(#b1)"/>
<rect x="545.11" y="132.76" width="14.50" height="6" rx="2" fill="#fff" opacity="0.32" filter="url(#b2)"/>
<rect x="545.81" y="134.26" width="13.10" height="3.4" rx="1.6" fill="#fff" opacity="0.75" filter="url(#b1)"/>
<rect x="566.15" y="132.76" width="14.50" height="6" rx="2" fill="#fff" opacity="0.24" filter="url(#b2)"/>
<rect x="566.85" y="134.26" width="13.10" height="3.4" rx="1.6" fill="#fff" opacity="0.51" filter="url(#b1)"/>
<rect x="587.20" y="132.76" width="14.50" height="6" rx="2" fill="#fff" opacity="0.26" filter="url(#b2)"/>
<rect x="587.90" y="134.26" width="13.10" height="3.4" rx="1.6" fill="#fff" opacity="0.57" filter="url(#b1)"/>
<rect x="518.70" y="147.10" width="88.80" height="13.20" fill="#2a2a2a"/>
<rect x="524.06" y="151.09" width="14.50" height="6" rx="2" fill="#fff" opacity="0.22" filter="url(#b2)"/>
<rect x="524.76" y="152.59" width="13.10" height="3.4" rx="1.6" fill="#fff" opacity="0.46" filter="url(#b1)"/>
<rect x="545.11" y="151.09" width="14.50" height="6" rx="2" fill="#fff" opacity="0.24" filter="url(#b2)"/>
<rect x="545.81" y="152.59" width="13.10" height="3.4" rx="1.6" fill="#fff" opacity="0.51" filter="url(#b1)"/>
<rect x="566.15" y="151.09" width="14.50" height="6" rx="2" fill="#fff" opacity="0.30" filter="url(#b2)"/>
<rect x="566.85" y="152.59" width="13.10" height="3.4" rx="1.6" fill="#fff" opacity="0.69" filter="url(#b1)"/>
<rect x="587.20" y="151.09" width="14.50" height="6" rx="2" fill="#fff" opacity="0.20" filter="url(#b2)"/>
<rect x="587.90" y="152.59" width="13.10" height="3.4" rx="1.6" fill="#fff" opacity="0.41" filter="url(#b1)"/>
<rect x="357.3" y="33.2" width="155.7" height="20.85" fill="none" stroke="#000" stroke-width="3.5"/>
<rect x="357.3" y="108.55" width="155.7" height="20.5" fill="none" stroke="#000" stroke-width="3.5"/>
<text x="360.00" y="46.10" font-size="7.6" text-anchor="start" fill="#111" font-weight="normal"  textLength="49.00" lengthAdjust="spacingAndGlyphs" stroke="#111" stroke-width="0.22">-2018 to -1778</text>
<text x="359.20" y="62.30" font-size="7.6" text-anchor="start" fill="#111" font-weight="normal"  textLength="49.10" lengthAdjust="spacingAndGlyphs" stroke="#111" stroke-width="0.22">-1792 to -1525</text>
<text x="359.20" y="80.90" font-size="7.6" text-anchor="start" fill="#111" font-weight="normal"  textLength="49.10" lengthAdjust="spacingAndGlyphs" stroke="#111" stroke-width="0.22">-1571 to -1381</text>
<text x="359.20" y="99.50" font-size="7.6" text-anchor="start" fill="#111" font-weight="normal"  textLength="49.10" lengthAdjust="spacingAndGlyphs" stroke="#111" stroke-width="0.22">-1399 to -1181</text>
<text x="361.70" y="121.30" font-size="7.6" text-anchor="start" fill="#111" font-weight="normal"  textLength="44.90" lengthAdjust="spacingAndGlyphs" stroke="#111" stroke-width="0.22">-1183 to -988</text>
<text x="365.40" y="138.00" font-size="7.6" text-anchor="start" fill="#111" font-weight="normal"  textLength="41.20" lengthAdjust="spacingAndGlyphs" stroke="#111" stroke-width="0.22">-987 to -794</text>
<text x="365.40" y="157.30" font-size="7.6" text-anchor="start" fill="#111" font-weight="normal"  textLength="41.20" lengthAdjust="spacingAndGlyphs" stroke="#111" stroke-width="0.22">-823 to -533</text>
<text x="611.70" y="48.20" font-size="7.6" text-anchor="start" fill="#111" font-weight="normal"  textLength="41.00" lengthAdjust="spacingAndGlyphs" stroke="#111" stroke-width="0.22">-581 to -375</text>
<text x="611.00" y="64.80" font-size="7.6" text-anchor="start" fill="#111" font-weight="normal"  textLength="41.00" lengthAdjust="spacingAndGlyphs" stroke="#111" stroke-width="0.22">-374 to -167</text>
<text x="611.70" y="84.90" font-size="7.6" text-anchor="start" fill="#111" font-weight="normal"  textLength="32.60" lengthAdjust="spacingAndGlyphs" stroke="#111" stroke-width="0.22">-170 to -1</text>
<text x="611.00" y="102.80" font-size="7.6" text-anchor="start" fill="#111" font-weight="normal"  textLength="64.20" lengthAdjust="spacingAndGlyphs" stroke="#111" stroke-width="0.22">+1 to +130 (Exon 1)</text>
<text x="610.80" y="120.90" font-size="7.6" text-anchor="start" fill="#111" font-weight="normal"  textLength="73.70" lengthAdjust="spacingAndGlyphs" stroke="#111" stroke-width="0.22">+131 to +261 (Exon&#160; 2)</text>
<text x="610.80" y="138.60" font-size="7.6" text-anchor="start" fill="#111" font-weight="normal"  textLength="71.80" lengthAdjust="spacingAndGlyphs" stroke="#111" stroke-width="0.22">+263 to +449 (Exon 3)</text>
<text x="611.70" y="157.10" font-size="7.6" text-anchor="start" fill="#111" font-weight="normal"  textLength="71.60" lengthAdjust="spacingAndGlyphs" stroke="#111" stroke-width="0.22">+447 to +621 (Exon 3)</text>
<text x="185.00" y="197.00" font-size="12.5" text-anchor="start" fill="#000" font-weight="normal" >A</text>
<text x="532.60" y="197.30" font-size="12.5" text-anchor="start" fill="#000" font-weight="bold" >B</text>
<text x="184.60" y="402.30" font-size="12.5" text-anchor="start" fill="#000" font-weight="normal" >C</text>
<text x="525.60" y="401.90" font-size="12.5" text-anchor="start" fill="#000" font-weight="normal" >D</text>
<text x="185.30" y="596.30" font-size="12.5" text-anchor="start" fill="#000" font-weight="bold"  textLength="6.20" lengthAdjust="spacingAndGlyphs">E</text>
<text x="530.30" y="598.20" font-size="12.5" text-anchor="start" fill="#000" font-weight="bold"  textLength="6.90" lengthAdjust="spacingAndGlyphs">F</text>
<text x="338.60" y="789.80" font-size="12.5" text-anchor="start" fill="#000" font-weight="normal" >G</text>
<text x="341.40" y="967.40" font-size="12.5" text-anchor="start" fill="#000" font-weight="normal" >H</text>
<line x1="81.70" y1="233.60" x2="81.70" y2="366.40" stroke="#7f7f7f" stroke-width="1.2"/>
<line x1="81.70" y1="365.80" x2="323.40" y2="365.80" stroke="#7f7f7f" stroke-width="1.2"/>
<text x="76.00" y="368.50" font-size="7.5" text-anchor="end" fill="#595959" font-weight="normal" >0</text>
<text x="76.00" y="352.00" font-size="7.5" text-anchor="end" fill="#595959" font-weight="normal" >10</text>
<text x="76.00" y="335.50" font-size="7.5" text-anchor="end" fill="#595959" font-weight="normal" >20</text>
<text x="76.00" y="319.00" font-size="7.5" text-anchor="end" fill="#595959" font-weight="normal" >30</text>
<text x="76.00" y="302.50" font-size="7.5" text-anchor="end" fill="#595959" font-weight="normal" >40</text>
<text x="76.00" y="286.00" font-size="7.5" text-anchor="end" fill="#595959" font-weight="normal" >50</text>
<text x="76.00" y="269.50" font-size="7.5" text-anchor="end" fill="#595959" font-weight="normal" >60</text>
<text x="76.00" y="253.00" font-size="7.5" text-anchor="end" fill="#595959" font-weight="normal" >70</text>
<text x="76.00" y="236.50" font-size="7.5" text-anchor="end" fill="#595959" font-weight="normal" >80</text>
<rect x="109.30" y="335.41" width="24.90" height="30.39" fill="#000"/>
<text x="121.75" y="330.41" font-size="6.8" text-anchor="middle" fill="#404040" font-weight="normal" >18.42</text>
<text x="121.75" y="376.30" font-size="6.8" text-anchor="middle" fill="#595959" font-weight="normal" >CG</text>
<rect x="190.40" y="344.09" width="24.80" height="21.71" fill="#000"/>
<text x="202.80" y="339.09" font-size="6.8" text-anchor="middle" fill="#404040" font-weight="normal" >13.16</text>
<text x="202.80" y="376.30" font-size="6.8" text-anchor="middle" fill="#595959" font-weight="normal" >CHG</text>
<rect x="270.50" y="252.91" width="25.30" height="112.89" fill="#000"/>
<text x="283.15" y="247.91" font-size="6.8" text-anchor="middle" fill="#404040" font-weight="normal" >68.42</text>
<text x="283.15" y="376.30" font-size="6.8" text-anchor="middle" fill="#595959" font-weight="normal" >CHH</text>
<text x="-41.0" y="0" font-size="9.6" font-weight="bold" text-anchor="start" fill="#000" transform="translate(43.60,297.10) rotate(-90)" dy="0.35em" textLength="82" lengthAdjust="spacingAndGlyphs">Frequency level(%)</text>
<line x1="409.00" y1="231.40" x2="409.00" y2="364.20" stroke="#3a3a3a" stroke-width="1.2"/>
<line x1="409.00" y1="363.60" x2="650.70" y2="363.60" stroke="#3a3a3a" stroke-width="1.2"/>
<text x="403.40" y="366.30" font-size="7.5" text-anchor="end" fill="#595959" font-weight="normal" >0</text>
<text x="403.40" y="349.80" font-size="7.5" text-anchor="end" fill="#595959" font-weight="normal" >10</text>
<text x="403.40" y="333.30" font-size="7.5" text-anchor="end" fill="#595959" font-weight="normal" >20</text>
<text x="403.40" y="316.80" font-size="7.5" text-anchor="end" fill="#595959" font-weight="normal" >30</text>
<text x="403.40" y="300.30" font-size="7.5" text-anchor="end" fill="#595959" font-weight="normal" >40</text>
<text x="403.40" y="283.80" font-size="7.5" text-anchor="end" fill="#595959" font-weight="normal" >50</text>
<text x="403.40" y="267.30" font-size="7.5" text-anchor="end" fill="#595959" font-weight="normal" >60</text>
<text x="403.40" y="250.80" font-size="7.5" text-anchor="end" fill="#595959" font-weight="normal" >70</text>
<text x="403.40" y="234.30" font-size="7.5" text-anchor="end" fill="#595959" font-weight="normal" >80</text>
<rect x="437.10" y="333.60" width="24.70" height="30.00" fill="#000"/>
<text x="449.45" y="328.60" font-size="7.4" text-anchor="middle" fill="#404040" font-weight="normal" >18.18</text>
<text x="449.45" y="373.60" font-size="6.8" text-anchor="middle" fill="#595959" font-weight="normal" >CG</text>
<rect x="517.40" y="348.60" width="25.60" height="15.00" fill="#000"/>
<text x="530.20" y="343.60" font-size="7.4" text-anchor="middle" fill="#404040" font-weight="normal" >9.09</text>
<text x="530.20" y="373.60" font-size="6.8" text-anchor="middle" fill="#595959" font-weight="normal" >CHG</text>
<rect x="598.50" y="243.60" width="24.60" height="120.00" fill="#000"/>
<text x="610.80" y="238.60" font-size="7.4" text-anchor="middle" fill="#404040" font-weight="normal" >72.73</text>
<text x="610.80" y="373.60" font-size="6.8" text-anchor="middle" fill="#595959" font-weight="normal" >CHH</text>
<text x="-41.0" y="0" font-size="9.6" font-weight="bold" text-anchor="start" fill="#000" transform="translate(377.00,297.00) rotate(-90)" dy="0.35em" textLength="82" lengthAdjust="spacingAndGlyphs">Frequency level(%)</text>
<line x1="78.60" y1="446.40" x2="78.60" y2="562.80" stroke="#404040" stroke-width="1"/>
<line x1="78.60" y1="562.30" x2="316.00" y2="562.30" stroke="#404040" stroke-width="1"/>
<text x="72.70" y="564.80" font-size="7.1" text-anchor="end" fill="#595959" font-weight="normal" >0</text>
<text x="72.70" y="545.48" font-size="7.1" text-anchor="end" fill="#595959" font-weight="normal" >20</text>
<text x="72.70" y="526.16" font-size="7.1" text-anchor="end" fill="#595959" font-weight="normal" >40</text>
<text x="72.70" y="506.84" font-size="7.1" text-anchor="end" fill="#595959" font-weight="normal" >60</text>
<text x="72.70" y="487.52" font-size="7.1" text-anchor="end" fill="#595959" font-weight="normal" >80</text>
<text x="72.70" y="468.20" font-size="7.1" text-anchor="end" fill="#595959" font-weight="normal" >100</text>
<text x="72.70" y="448.88" font-size="7.1" text-anchor="end" fill="#595959" font-weight="normal" >120</text>
<rect x="97.40" y="468.11" width="18.20" height="94.19" fill="#000"/>
<path d="M106.50,462.80V473.40M105.20,462.80H107.80M105.20,473.40H107.80" stroke="#404040" stroke-width="0.7" fill="none"/>
<text x="106.50" y="463.20" font-size="7.0" text-anchor="middle" fill="#404040" font-weight="normal" >97.50</text>
<rect x="120.20" y="468.11" width="17.80" height="94.19" fill="#e7e6e6"/>
<path d="M129.10,460.70V476.40M127.80,460.70H130.40M127.80,476.40H130.40" stroke="#404040" stroke-width="0.7" fill="none"/>
<text x="129.10" y="463.20" font-size="7.0" text-anchor="middle" fill="#404040" font-weight="normal" >97.50</text>
<text x="118.00" y="572.60" font-size="6.8" text-anchor="middle" fill="#595959" font-weight="normal" >CG</text>
<rect x="177.00" y="469.95" width="17.80" height="92.35" fill="#000"/>
<path d="M185.90,464.60V475.50M184.60,464.60H187.20M184.60,475.50H187.20" stroke="#404040" stroke-width="0.7" fill="none"/>
<text x="185.90" y="464.50" font-size="7.0" text-anchor="middle" fill="#404040" font-weight="normal" >95.60</text>
<rect x="199.20" y="467.83" width="18.70" height="94.47" fill="#e7e6e6"/>
<path d="M208.55,460.40V476.30M207.25,460.40H209.85M207.25,476.30H209.85" stroke="#404040" stroke-width="0.7" fill="none"/>
<text x="208.55" y="462.40" font-size="7.0" text-anchor="middle" fill="#404040" font-weight="normal" >97.80</text>
<text x="197.60" y="572.60" font-size="6.8" text-anchor="middle" fill="#595959" font-weight="normal" >CHG</text>
<rect x="256.40" y="485.06" width="17.80" height="77.24" fill="#000"/>
<path d="M265.30,479.50V490.70M264.00,479.50H266.60M264.00,490.70H266.60" stroke="#404040" stroke-width="0.7" fill="none"/>
<text x="265.30" y="479.90" font-size="7.0" text-anchor="middle" fill="#404040" font-weight="normal" >79.96</text>
<rect x="278.40" y="494.14" width="18.40" height="68.16" fill="#e7e6e6"/>
<path d="M287.60,484.90V503.10M286.30,484.90H288.90M286.30,503.10H288.90" stroke="#404040" stroke-width="0.7" fill="none"/>
<text x="287.60" y="489.30" font-size="7.0" text-anchor="middle" fill="#404040" font-weight="normal" >70.56</text>
<text x="276.30" y="572.60" font-size="6.8" text-anchor="middle" fill="#595959" font-weight="normal" >CHH</text>
<text x="-45.0" y="0" font-size="10.4" font-weight="bold" text-anchor="start" fill="#000" transform="translate(46.90,503.40) rotate(-90)" dy="0.35em" textLength="90" lengthAdjust="spacingAndGlyphs">Methylation level(%)</text>
<rect x="270.90" y="444.20" width="3.4" height="3.4" fill="#000"/>
<text x="275.10" y="448.00" font-size="6.0" text-anchor="start" fill="#6e6e6e" font-weight="normal" >Fuji</text>
<rect x="291.50" y="444.20" width="2.2" height="3.4" fill="#e0e0e0"/>
<text x="295.00" y="448.00" font-size="6.0" text-anchor="start" fill="#8a8a8a" font-weight="normal" >M_Fuji</text>
<g transform="translate(266.0,464.9)" fill="#111" stroke="#111"><circle r="1.7" stroke="none"/><path d="M0,-2.7V2.7M-2.35,-1.35L2.35,1.35M-2.35,1.35L2.35,-1.35" stroke-width="1.2"/></g>
<line x1="410.70" y1="446.80" x2="410.70" y2="560.60" stroke="#404040" stroke-width="1"/>
<line x1="410.70" y1="560.10" x2="650.00" y2="560.10" stroke="#404040" stroke-width="1"/>
<text x="405.00" y="562.60" font-size="7.1" text-anchor="end" fill="#595959" font-weight="normal" >0</text>
<text x="405.00" y="543.72" font-size="7.1" text-anchor="end" fill="#595959" font-weight="normal" >20</text>
<text x="405.00" y="524.84" font-size="7.1" text-anchor="end" fill="#595959" font-weight="normal" >40</text>
<text x="405.00" y="505.96" font-size="7.1" text-anchor="end" fill="#595959" font-weight="normal" >60</text>
<text x="405.00" y="487.08" font-size="7.1" text-anchor="end" fill="#595959" font-weight="normal" >80</text>
<text x="405.00" y="468.20" font-size="7.1" text-anchor="end" fill="#595959" font-weight="normal" >100</text>
<text x="405.00" y="449.32" font-size="7.1" text-anchor="end" fill="#595959" font-weight="normal" >120</text>
<rect x="429.60" y="467.44" width="18.70" height="92.66" fill="#000"/>
<path d="M438.95,466.10V467.40M437.65,466.10H440.25M437.65,467.40H440.25" stroke="#404040" stroke-width="0.7" fill="none"/>
<text x="438.95" y="462.20" font-size="7.0" text-anchor="middle" fill="#404040" font-weight="normal" >98.16</text>
<rect x="453.00" y="476.24" width="18.40" height="83.86" fill="#e7e6e6"/>
<path d="M462.20,470.20V480.90M460.90,470.20H463.50M460.90,480.90H463.50" stroke="#404040" stroke-width="0.7" fill="none"/>
<text x="462.20" y="471.00" font-size="7.0" text-anchor="middle" fill="#404040" font-weight="normal" >88.83</text>
<text x="450.60" y="570.70" font-size="6.8" text-anchor="middle" fill="#595959" font-weight="normal" >CG</text>
<rect x="509.80" y="466.33" width="18.70" height="93.77" fill="#000"/>
<path d="M519.15,465.20V466.40M517.85,465.20H520.45M517.85,466.40H520.45" stroke="#404040" stroke-width="0.7" fill="none"/>
<text x="519.15" y="461.00" font-size="7.0" text-anchor="middle" fill="#404040" font-weight="normal" >99.33</text>
<rect x="532.20" y="486.78" width="18.70" height="73.32" fill="#e7e6e6"/>
<path d="M541.55,481.90V491.40M540.25,481.90H542.85M540.25,491.40H542.85" stroke="#404040" stroke-width="0.7" fill="none"/>
<text x="541.55" y="481.50" font-size="7.0" text-anchor="middle" fill="#404040" font-weight="normal" >77.67</text>
<text x="530.40" y="570.70" font-size="6.8" text-anchor="middle" fill="#595959" font-weight="normal" >CHG</text>
<rect x="589.50" y="466.65" width="18.70" height="93.45" fill="#000"/>
<path d="M598.85,465.50V466.90M597.55,465.50H600.15M597.55,466.90H600.15" stroke="#404040" stroke-width="0.7" fill="none"/>
<text x="598.85" y="461.00" font-size="7.0" text-anchor="middle" fill="#404040" font-weight="normal" >98.99</text>
<rect x="612.80" y="469.52" width="18.00" height="90.58" fill="#e7e6e6"/>
<path d="M621.80,464.60V474.40M620.50,464.60H623.10M620.50,474.40H623.10" stroke="#404040" stroke-width="0.7" fill="none"/>
<text x="621.80" y="464.00" font-size="7.0" text-anchor="middle" fill="#404040" font-weight="normal" >95.95</text>
<text x="610.30" y="570.70" font-size="6.8" text-anchor="middle" fill="#595959" font-weight="normal" >CHH</text>
<text x="-45.0" y="0" font-size="10.4" font-weight="bold" text-anchor="start" fill="#000" transform="translate(376.40,504.20) rotate(-90)" dy="0.35em" textLength="90" lengthAdjust="spacingAndGlyphs">Methylation level(%)</text>
<rect x="608.60" y="444.20" width="3.4" height="3.4" fill="#000"/>
<text x="613.80" y="448.00" font-size="6.0" text-anchor="start" fill="#6e6e6e" font-weight="normal" >Fuji</text>
<rect x="629.60" y="444.20" width="2.2" height="3.4" fill="#e0e0e0"/>
<text x="632.70" y="448.00" font-size="6.0" text-anchor="start" fill="#8a8a8a" font-weight="normal" >M_Fuji</text>
<line x1="37.3" y1="618.4" x2="37.3" y2="724.60" stroke="#404040" stroke-width="1.1"/>
<line x1="37.3" y1="724.60" x2="663.5" y2="724.60" stroke="#404040" stroke-width="1.1"/>
<text x="32.40" y="727.00" font-size="6.8" text-anchor="end" fill="#595959" font-weight="normal" >0</text>
<text x="32.40" y="709.30" font-size="6.8" text-anchor="end" fill="#595959" font-weight="normal" >20</text>
<text x="32.40" y="691.60" font-size="6.8" text-anchor="end" fill="#595959" font-weight="normal" >40</text>
<text x="32.40" y="673.90" font-size="6.8" text-anchor="end" fill="#595959" font-weight="normal" >60</text>
<text x="32.40" y="656.20" font-size="6.8" text-anchor="end" fill="#595959" font-weight="normal" >80</text>
<text x="32.40" y="638.50" font-size="6.8" text-anchor="end" fill="#595959" font-weight="normal" >100</text>
<text x="32.40" y="620.80" font-size="6.8" text-anchor="end" fill="#595959" font-weight="normal" >120</text>
<rect x="39.10" y="636.10" width="1.9" height="88.50" fill="#4472c4"/>
<rect x="41.55" y="669.02" width="1.9" height="55.58" fill="#ed7d31"/>
<text x="-14" y="0" font-size="7.3" fill="#4a4a4a" transform="translate(44.00,728.2) rotate(-90)" textLength="14" lengthAdjust="spacingAndGlyphs">1994</text>
<line x1="41.70" y1="743.4" x2="41.70" y2="745.1" stroke="#595959" stroke-width="0.9"/>
<rect x="47.13" y="636.10" width="1.9" height="88.50" fill="#4472c4"/>
<rect x="49.58" y="660.88" width="1.9" height="63.72" fill="#ed7d31"/>
<text x="-14" y="0" font-size="7.3" fill="#4a4a4a" transform="translate(52.03,728.2) rotate(-90)" textLength="14" lengthAdjust="spacingAndGlyphs">1992</text>
<line x1="49.73" y1="743.4" x2="49.73" y2="745.1" stroke="#595959" stroke-width="0.9"/>
<rect x="55.16" y="681.32" width="1.9" height="43.28" fill="#4472c4"/>
<rect x="57.61" y="676.81" width="1.9" height="47.79" fill="#ed7d31"/>
<text x="-14" y="0" font-size="7.3" fill="#4a4a4a" transform="translate(60.06,728.2) rotate(-90)" textLength="14" lengthAdjust="spacingAndGlyphs">1987</text>
<line x1="57.76" y1="743.4" x2="57.76" y2="745.1" stroke="#595959" stroke-width="0.9"/>
<rect x="63.19" y="681.32" width="1.9" height="43.28" fill="#4472c4"/>
<rect x="65.64" y="676.81" width="1.9" height="47.79" fill="#ed7d31"/>
<text x="-14" y="0" font-size="7.3" fill="#4a4a4a" transform="translate(68.09,728.2) rotate(-90)" textLength="14" lengthAdjust="spacingAndGlyphs">1986</text>
<line x1="65.79" y1="743.4" x2="65.79" y2="745.1" stroke="#595959" stroke-width="0.9"/>
<rect x="71.22" y="636.10" width="1.9" height="88.50" fill="#4472c4"/>
<rect x="73.67" y="669.02" width="1.9" height="55.58" fill="#ed7d31"/>
<text x="-14" y="0" font-size="7.3" fill="#4a4a4a" transform="translate(76.12,728.2) rotate(-90)" textLength="14" lengthAdjust="spacingAndGlyphs">1978</text>
<line x1="73.82" y1="743.4" x2="73.82" y2="745.1" stroke="#595959" stroke-width="0.9"/>
<rect x="79.25" y="636.10" width="1.9" height="88.50" fill="#4472c4"/>
<rect x="81.70" y="669.02" width="1.9" height="55.58" fill="#ed7d31"/>
<text x="-14" y="0" font-size="7.3" fill="#4a4a4a" transform="translate(84.15,728.2) rotate(-90)" textLength="14" lengthAdjust="spacingAndGlyphs">1974</text>
<line x1="81.85" y1="743.4" x2="81.85" y2="745.1" stroke="#595959" stroke-width="0.9"/>
<rect x="87.28" y="636.10" width="1.9" height="88.50" fill="#4472c4"/>
<rect x="89.73" y="676.81" width="1.9" height="47.79" fill="#ed7d31"/>
<text x="-14" y="0" font-size="7.3" fill="#4a4a4a" transform="translate(92.18,728.2) rotate(-90)" textLength="14" lengthAdjust="spacingAndGlyphs">1972</text>
<line x1="89.88" y1="743.4" x2="89.88" y2="745.1" stroke="#595959" stroke-width="0.9"/>
<rect x="95.31" y="636.10" width="1.9" height="88.50" fill="#4472c4"/>
<rect x="97.76" y="676.81" width="1.9" height="47.79" fill="#ed7d31"/>
<text x="-14" y="0" font-size="7.3" fill="#4a4a4a" transform="translate(100.21,728.2) rotate(-90)" textLength="14" lengthAdjust="spacingAndGlyphs">1971</text>
<line x1="97.91" y1="743.4" x2="97.91" y2="745.1" stroke="#595959" stroke-width="0.9"/>
<rect x="103.34" y="636.10" width="1.9" height="88.50" fill="#4472c4"/>
<rect x="105.79" y="660.88" width="1.9" height="63.72" fill="#ed7d31"/>
<text x="-14" y="0" font-size="7.3" fill="#4a4a4a" transform="translate(108.24,728.2) rotate(-90)" textLength="14" lengthAdjust="spacingAndGlyphs">1967</text>
<line x1="105.94" y1="743.4" x2="105.94" y2="745.1" stroke="#595959" stroke-width="0.9"/>
<rect x="111.37" y="667.08" width="1.9" height="57.52" fill="#4472c4"/>
<rect x="113.82" y="660.88" width="1.9" height="63.72" fill="#ed7d31"/>
<text x="-14" y="0" font-size="7.3" fill="#4a4a4a" transform="translate(116.27,728.2) rotate(-90)" textLength="14" lengthAdjust="spacingAndGlyphs">1963</text>
<line x1="113.97" y1="743.4" x2="113.97" y2="745.1" stroke="#595959" stroke-width="0.9"/>
<rect x="119.40" y="674.15" width="1.9" height="50.45" fill="#4472c4"/>
<rect x="121.85" y="669.02" width="1.9" height="55.58" fill="#ed7d31"/>
<text x="-14" y="0" font-size="7.3" fill="#4a4a4a" transform="translate(124.30,728.2) rotate(-90)" textLength="14" lengthAdjust="spacingAndGlyphs">1961</text>
<line x1="122.00" y1="743.4" x2="122.00" y2="745.1" stroke="#595959" stroke-width="0.9"/>
<rect x="127.43" y="674.15" width="1.9" height="50.45" fill="#4472c4"/>
<rect x="129.88" y="669.02" width="1.9" height="55.58" fill="#ed7d31"/>
<text x="-14" y="0" font-size="7.3" fill="#4a4a4a" transform="translate(132.33,728.2) rotate(-90)" textLength="14" lengthAdjust="spacingAndGlyphs">1958</text>
<line x1="130.03" y1="743.4" x2="130.03" y2="745.1" stroke="#595959" stroke-width="0.9"/>
<rect x="135.46" y="674.15" width="1.9" height="50.45" fill="#4472c4"/>
<rect x="137.91" y="669.02" width="1.9" height="55.58" fill="#ed7d31"/>
<text x="-14" y="0" font-size="7.3" fill="#4a4a4a" transform="translate(140.36,728.2) rotate(-90)" textLength="14" lengthAdjust="spacingAndGlyphs">1957</text>
<line x1="138.06" y1="743.4" x2="138.06" y2="745.1" stroke="#595959" stroke-width="0.9"/>
<rect x="143.49" y="667.08" width="1.9" height="57.52" fill="#4472c4"/>
<rect x="145.94" y="660.88" width="1.9" height="63.72" fill="#ed7d31"/>
<text x="-14" y="0" font-size="7.3" fill="#4a4a4a" transform="translate(148.39,728.2) rotate(-90)" textLength="14" lengthAdjust="spacingAndGlyphs">1955</text>
<line x1="146.09" y1="743.4" x2="146.09" y2="745.1" stroke="#595959" stroke-width="0.9"/>
<rect x="151.52" y="681.32" width="1.9" height="43.28" fill="#4472c4"/>
<rect x="153.97" y="676.81" width="1.9" height="47.79" fill="#ed7d31"/>
<text x="-14" y="0" font-size="7.3" fill="#4a4a4a" transform="translate(156.42,728.2) rotate(-90)" textLength="14" lengthAdjust="spacingAndGlyphs">1947</text>
<line x1="154.12" y1="743.4" x2="154.12" y2="745.1" stroke="#595959" stroke-width="0.9"/>
<rect x="159.55" y="636.10" width="1.9" height="88.50" fill="#4472c4"/>
<rect x="162.00" y="660.88" width="1.9" height="63.72" fill="#ed7d31"/>
<text x="-14" y="0" font-size="7.3" fill="#4a4a4a" transform="translate(164.45,728.2) rotate(-90)" textLength="14" lengthAdjust="spacingAndGlyphs">1945</text>
<line x1="162.15" y1="743.4" x2="162.15" y2="745.1" stroke="#595959" stroke-width="0.9"/>
<rect x="167.58" y="667.08" width="1.9" height="57.52" fill="#4472c4"/>
<rect x="170.03" y="660.88" width="1.9" height="63.72" fill="#ed7d31"/>
<text x="-14" y="0" font-size="7.3" fill="#4a4a4a" transform="translate(172.48,728.2) rotate(-90)" textLength="14" lengthAdjust="spacingAndGlyphs">1942</text>
<line x1="170.18" y1="743.4" x2="170.18" y2="745.1" stroke="#595959" stroke-width="0.9"/>
<rect x="175.61" y="636.10" width="1.9" height="88.50" fill="#4472c4"/>
<rect x="178.06" y="676.81" width="1.9" height="47.79" fill="#ed7d31"/>
<text x="-14" y="0" font-size="7.3" fill="#4a4a4a" transform="translate(180.51,728.2) rotate(-90)" textLength="14" lengthAdjust="spacingAndGlyphs">1940</text>
<line x1="178.21" y1="743.4" x2="178.21" y2="745.1" stroke="#595959" stroke-width="0.9"/>
<rect x="183.64" y="636.10" width="1.9" height="88.50" fill="#4472c4"/>
<rect x="186.09" y="669.02" width="1.9" height="55.58" fill="#ed7d31"/>
<text x="-14" y="0" font-size="7.3" fill="#4a4a4a" transform="translate(188.54,728.2) rotate(-90)" textLength="14" lengthAdjust="spacingAndGlyphs">1939</text>
<line x1="186.24" y1="743.4" x2="186.24" y2="745.1" stroke="#595959" stroke-width="0.9"/>
<rect x="191.67" y="636.10" width="1.9" height="88.50" fill="#4472c4"/>
<rect x="194.12" y="669.02" width="1.9" height="55.58" fill="#ed7d31"/>
<text x="-14" y="0" font-size="7.3" fill="#4a4a4a" transform="translate(196.57,728.2) rotate(-90)" textLength="14" lengthAdjust="spacingAndGlyphs">1938</text>
<line x1="194.27" y1="743.4" x2="194.27" y2="745.1" stroke="#595959" stroke-width="0.9"/>
<rect x="199.70" y="636.10" width="1.9" height="88.50" fill="#4472c4"/>
<rect x="202.15" y="676.81" width="1.9" height="47.79" fill="#ed7d31"/>
<text x="-14" y="0" font-size="7.3" fill="#4a4a4a" transform="translate(204.60,728.2) rotate(-90)" textLength="14" lengthAdjust="spacingAndGlyphs">1934</text>
<line x1="202.30" y1="743.4" x2="202.30" y2="745.1" stroke="#595959" stroke-width="0.9"/>
<rect x="207.73" y="636.10" width="1.9" height="88.50" fill="#4472c4"/>
<rect x="210.18" y="669.02" width="1.9" height="55.58" fill="#ed7d31"/>
<text x="-14" y="0" font-size="7.3" fill="#4a4a4a" transform="translate(212.63,728.2) rotate(-90)" textLength="14" lengthAdjust="spacingAndGlyphs">1933</text>
<line x1="210.33" y1="743.4" x2="210.33" y2="745.1" stroke="#595959" stroke-width="0.9"/>
<rect x="215.76" y="636.10" width="1.9" height="88.50" fill="#4472c4"/>
<rect x="218.21" y="669.02" width="1.9" height="55.58" fill="#ed7d31"/>
<text x="-14" y="0" font-size="7.3" fill="#4a4a4a" transform="translate(220.66,728.2) rotate(-90)" textLength="14" lengthAdjust="spacingAndGlyphs">1931</text>
<line x1="218.36" y1="743.4" x2="218.36" y2="745.1" stroke="#595959" stroke-width="0.9"/>
<rect x="223.79" y="660.35" width="1.9" height="64.25" fill="#4472c4"/>
<rect x="226.24" y="652.74" width="1.9" height="71.86" fill="#ed7d31"/>
<text x="-14" y="0" font-size="7.3" fill="#4a4a4a" transform="translate(228.69,728.2) rotate(-90)" textLength="14" lengthAdjust="spacingAndGlyphs">1927</text>
<line x1="226.39" y1="743.4" x2="226.39" y2="745.1" stroke="#595959" stroke-width="0.9"/>
<rect x="231.82" y="667.08" width="1.9" height="57.52" fill="#4472c4"/>
<rect x="234.27" y="660.88" width="1.9" height="63.72" fill="#ed7d31"/>
<text x="-14" y="0" font-size="7.3" fill="#4a4a4a" transform="translate(236.72,728.2) rotate(-90)" textLength="14" lengthAdjust="spacingAndGlyphs">1926</text>
<line x1="234.42" y1="743.4" x2="234.42" y2="745.1" stroke="#595959" stroke-width="0.9"/>
<rect x="239.85" y="667.08" width="1.9" height="57.52" fill="#4472c4"/>
<rect x="242.30" y="660.88" width="1.9" height="63.72" fill="#ed7d31"/>
<text x="-14" y="0" font-size="7.3" fill="#4a4a4a" transform="translate(244.75,728.2) rotate(-90)" textLength="14" lengthAdjust="spacingAndGlyphs">1925</text>
<line x1="242.45" y1="743.4" x2="242.45" y2="745.1" stroke="#595959" stroke-width="0.9"/>
<rect x="247.88" y="636.10" width="1.9" height="88.50" fill="#4472c4"/>
<rect x="250.33" y="669.02" width="1.9" height="55.58" fill="#ed7d31"/>
<text x="-14" y="0" font-size="7.3" fill="#4a4a4a" transform="translate(252.78,728.2) rotate(-90)" textLength="14" lengthAdjust="spacingAndGlyphs">1924</text>
<line x1="250.48" y1="743.4" x2="250.48" y2="745.1" stroke="#595959" stroke-width="0.9"/>
<rect x="255.91" y="636.10" width="1.9" height="88.50" fill="#4472c4"/>
<rect x="258.36" y="669.02" width="1.9" height="55.58" fill="#ed7d31"/>
<text x="-14" y="0" font-size="7.3" fill="#4a4a4a" transform="translate(260.81,728.2) rotate(-90)" textLength="14" lengthAdjust="spacingAndGlyphs">1918</text>
<line x1="258.51" y1="743.4" x2="258.51" y2="745.1" stroke="#595959" stroke-width="0.9"/>
<rect x="263.94" y="636.10" width="1.9" height="88.50" fill="#4472c4"/>
<rect x="266.39" y="669.02" width="1.9" height="55.58" fill="#ed7d31"/>
<text x="-14" y="0" font-size="7.3" fill="#4a4a4a" transform="translate(268.84,728.2) rotate(-90)" textLength="14" lengthAdjust="spacingAndGlyphs">1910</text>
<line x1="266.54" y1="743.4" x2="266.54" y2="745.1" stroke="#595959" stroke-width="0.9"/>
<rect x="271.97" y="636.10" width="1.9" height="88.50" fill="#4472c4"/>
<rect x="274.42" y="676.81" width="1.9" height="47.79" fill="#ed7d31"/>
<text x="-14" y="0" font-size="7.3" fill="#4a4a4a" transform="translate(276.87,728.2) rotate(-90)" textLength="14" lengthAdjust="spacingAndGlyphs">1906</text>
<line x1="274.57" y1="743.4" x2="274.57" y2="745.1" stroke="#595959" stroke-width="0.9"/>
<rect x="280.00" y="681.32" width="1.9" height="43.28" fill="#4472c4"/>
<rect x="282.45" y="676.81" width="1.9" height="47.79" fill="#ed7d31"/>
<text x="-14" y="0" font-size="7.3" fill="#4a4a4a" transform="translate(284.90,728.2) rotate(-90)" textLength="14" lengthAdjust="spacingAndGlyphs">1877</text>
<line x1="282.60" y1="743.4" x2="282.60" y2="745.1" stroke="#595959" stroke-width="0.9"/>
<rect x="288.03" y="660.35" width="1.9" height="64.25" fill="#4472c4"/>
<rect x="290.48" y="652.74" width="1.9" height="71.86" fill="#ed7d31"/>
<text x="-14" y="0" font-size="7.3" fill="#4a4a4a" transform="translate(292.93,728.2) rotate(-90)" textLength="14" lengthAdjust="spacingAndGlyphs">1876</text>
<line x1="290.63" y1="743.4" x2="290.63" y2="745.1" stroke="#595959" stroke-width="0.9"/>
<rect x="296.06" y="660.35" width="1.9" height="64.25" fill="#4472c4"/>
<rect x="298.51" y="652.74" width="1.9" height="71.86" fill="#ed7d31"/>
<text x="-14" y="0" font-size="7.3" fill="#4a4a4a" transform="translate(300.96,728.2) rotate(-90)" textLength="14" lengthAdjust="spacingAndGlyphs">1870</text>
<line x1="298.66" y1="743.4" x2="298.66" y2="745.1" stroke="#595959" stroke-width="0.9"/>
<rect x="304.09" y="667.08" width="1.9" height="57.52" fill="#4472c4"/>
<rect x="306.54" y="660.88" width="1.9" height="63.72" fill="#ed7d31"/>
<text x="-14" y="0" font-size="7.3" fill="#4a4a4a" transform="translate(308.99,728.2) rotate(-90)" textLength="14" lengthAdjust="spacingAndGlyphs">1867</text>
<line x1="306.69" y1="743.4" x2="306.69" y2="745.1" stroke="#595959" stroke-width="0.9"/>
<rect x="312.12" y="636.10" width="1.9" height="88.50" fill="#4472c4"/>
<rect x="314.57" y="652.74" width="1.9" height="71.86" fill="#ed7d31"/>
<text x="-14" y="0" font-size="7.3" fill="#4a4a4a" transform="translate(317.02,728.2) rotate(-90)" textLength="14" lengthAdjust="spacingAndGlyphs">1865</text>
<line x1="314.72" y1="743.4" x2="314.72" y2="745.1" stroke="#595959" stroke-width="0.9"/>
<rect x="320.15" y="636.10" width="1.9" height="88.50" fill="#4472c4"/>
<rect x="322.60" y="660.88" width="1.9" height="63.72" fill="#ed7d31"/>
<text x="-14" y="0" font-size="7.3" fill="#4a4a4a" transform="translate(325.05,728.2) rotate(-90)" textLength="14" lengthAdjust="spacingAndGlyphs">1863</text>
<line x1="322.75" y1="743.4" x2="322.75" y2="745.1" stroke="#595959" stroke-width="0.9"/>
<rect x="328.18" y="636.10" width="1.9" height="88.50" fill="#4472c4"/>
<rect x="330.63" y="660.88" width="1.9" height="63.72" fill="#ed7d31"/>
<text x="-14" y="0" font-size="7.3" fill="#4a4a4a" transform="translate(333.08,728.2) rotate(-90)" textLength="14" lengthAdjust="spacingAndGlyphs">1859</text>
<line x1="330.78" y1="743.4" x2="330.78" y2="745.1" stroke="#595959" stroke-width="0.9"/>
<rect x="336.21" y="636.10" width="1.9" height="88.50" fill="#4472c4"/>
<rect x="338.66" y="669.02" width="1.9" height="55.58" fill="#ed7d31"/>
<text x="-14" y="0" font-size="7.3" fill="#4a4a4a" transform="translate(341.11,728.2) rotate(-90)" textLength="14" lengthAdjust="spacingAndGlyphs">1856</text>
<line x1="338.81" y1="743.4" x2="338.81" y2="745.1" stroke="#595959" stroke-width="0.9"/>
<rect x="344.24" y="674.15" width="1.9" height="50.45" fill="#4472c4"/>
<rect x="346.69" y="669.02" width="1.9" height="55.58" fill="#ed7d31"/>
<text x="-14" y="0" font-size="7.3" fill="#4a4a4a" transform="translate(349.14,728.2) rotate(-90)" textLength="14" lengthAdjust="spacingAndGlyphs">1847</text>
<line x1="346.84" y1="743.4" x2="346.84" y2="745.1" stroke="#595959" stroke-width="0.9"/>
<rect x="352.27" y="636.10" width="1.9" height="88.50" fill="#4472c4"/>
<rect x="354.72" y="669.02" width="1.9" height="55.58" fill="#ed7d31"/>
<text x="-14" y="0" font-size="7.3" fill="#4a4a4a" transform="translate(357.17,728.2) rotate(-90)" textLength="14" lengthAdjust="spacingAndGlyphs">1846</text>
<line x1="354.87" y1="743.4" x2="354.87" y2="745.1" stroke="#595959" stroke-width="0.9"/>
<rect x="360.30" y="674.15" width="1.9" height="50.45" fill="#4472c4"/>
<rect x="362.75" y="669.02" width="1.9" height="55.58" fill="#ed7d31"/>
<text x="-14" y="0" font-size="7.3" fill="#4a4a4a" transform="translate(365.20,728.2) rotate(-90)" textLength="14" lengthAdjust="spacingAndGlyphs">1843</text>
<line x1="362.90" y1="743.4" x2="362.90" y2="745.1" stroke="#595959" stroke-width="0.9"/>
<rect x="368.33" y="674.15" width="1.9" height="50.45" fill="#4472c4"/>
<rect x="370.78" y="669.02" width="1.9" height="55.58" fill="#ed7d31"/>
<text x="-14" y="0" font-size="7.3" fill="#4a4a4a" transform="translate(373.23,728.2) rotate(-90)" textLength="14" lengthAdjust="spacingAndGlyphs">1842</text>
<line x1="370.93" y1="743.4" x2="370.93" y2="745.1" stroke="#595959" stroke-width="0.9"/>
<rect x="376.36" y="636.10" width="1.9" height="88.50" fill="#4472c4"/>
<rect x="378.81" y="669.02" width="1.9" height="55.58" fill="#ed7d31"/>
<text x="-14" y="0" font-size="7.3" fill="#4a4a4a" transform="translate(381.26,728.2) rotate(-90)" textLength="14" lengthAdjust="spacingAndGlyphs">1838</text>
<line x1="378.96" y1="743.4" x2="378.96" y2="745.1" stroke="#595959" stroke-width="0.9"/>
<rect x="384.39" y="667.08" width="1.9" height="57.52" fill="#4472c4"/>
<rect x="386.84" y="660.88" width="1.9" height="63.72" fill="#ed7d31"/>
<text x="-14" y="0" font-size="7.3" fill="#4a4a4a" transform="translate(389.29,728.2) rotate(-90)" textLength="14" lengthAdjust="spacingAndGlyphs">1834</text>
<line x1="386.99" y1="743.4" x2="386.99" y2="745.1" stroke="#595959" stroke-width="0.9"/>
<rect x="392.42" y="681.32" width="1.9" height="43.28" fill="#4472c4"/>
<rect x="394.87" y="676.81" width="1.9" height="47.79" fill="#ed7d31"/>
<text x="-14" y="0" font-size="7.3" fill="#4a4a4a" transform="translate(397.32,728.2) rotate(-90)" textLength="14" lengthAdjust="spacingAndGlyphs">1827</text>
<line x1="395.02" y1="743.4" x2="395.02" y2="745.1" stroke="#595959" stroke-width="0.9"/>
<rect x="400.45" y="636.10" width="1.9" height="88.50" fill="#4472c4"/>
<rect x="402.90" y="636.10" width="1.9" height="88.50" fill="#ed7d31"/>
<text x="-14" y="0" font-size="7.3" fill="#4a4a4a" transform="translate(405.35,728.2) rotate(-90)" textLength="14" lengthAdjust="spacingAndGlyphs">1819</text>
<line x1="403.05" y1="743.4" x2="403.05" y2="745.1" stroke="#595959" stroke-width="0.9"/>
<rect x="408.48" y="636.10" width="1.9" height="88.50" fill="#4472c4"/>
<rect x="410.93" y="669.02" width="1.9" height="55.58" fill="#ed7d31"/>
<text x="-14" y="0" font-size="7.3" fill="#4a4a4a" transform="translate(413.38,728.2) rotate(-90)" textLength="14" lengthAdjust="spacingAndGlyphs">1813</text>
<line x1="411.08" y1="743.4" x2="411.08" y2="745.1" stroke="#595959" stroke-width="0.9"/>
<rect x="416.51" y="674.15" width="1.9" height="50.45" fill="#4472c4"/>
<rect x="418.96" y="669.02" width="1.9" height="55.58" fill="#ed7d31"/>
<text x="-14" y="0" font-size="7.3" fill="#4a4a4a" transform="translate(421.41,728.2) rotate(-90)" textLength="14" lengthAdjust="spacingAndGlyphs">1815</text>
<line x1="419.11" y1="743.4" x2="419.11" y2="745.1" stroke="#595959" stroke-width="0.9"/>
<rect x="424.54" y="681.32" width="1.9" height="43.28" fill="#4472c4"/>
<rect x="426.99" y="676.81" width="1.9" height="47.79" fill="#ed7d31"/>
<text x="-14" y="0" font-size="7.3" fill="#4a4a4a" transform="translate(429.44,728.2) rotate(-90)" textLength="14" lengthAdjust="spacingAndGlyphs">1812</text>
<line x1="427.14" y1="743.4" x2="427.14" y2="745.1" stroke="#595959" stroke-width="0.9"/>
<rect x="432.57" y="636.10" width="1.9" height="88.50" fill="#4472c4"/>
<rect x="435.02" y="660.88" width="1.9" height="63.72" fill="#ed7d31"/>
<text x="-14" y="0" font-size="7.3" fill="#4a4a4a" transform="translate(437.47,728.2) rotate(-90)" textLength="14" lengthAdjust="spacingAndGlyphs">1808</text>
<line x1="435.17" y1="743.4" x2="435.17" y2="745.1" stroke="#595959" stroke-width="0.9"/>
<rect x="440.60" y="636.10" width="1.9" height="88.50" fill="#4472c4"/>
<rect x="443.05" y="660.88" width="1.9" height="63.72" fill="#ed7d31"/>
<text x="-14" y="0" font-size="7.3" fill="#4a4a4a" transform="translate(445.50,728.2) rotate(-90)" textLength="14" lengthAdjust="spacingAndGlyphs">1807</text>
<line x1="443.20" y1="743.4" x2="443.20" y2="745.1" stroke="#595959" stroke-width="0.9"/>
<rect x="448.63" y="636.10" width="1.9" height="88.50" fill="#4472c4"/>
<rect x="451.08" y="669.02" width="1.9" height="55.58" fill="#ed7d31"/>
<text x="-14" y="0" font-size="7.3" fill="#4a4a4a" transform="translate(453.53,728.2) rotate(-90)" textLength="14" lengthAdjust="spacingAndGlyphs">1802</text>
<line x1="451.23" y1="743.4" x2="451.23" y2="745.1" stroke="#595959" stroke-width="0.9"/>
<rect x="464.69" y="636.10" width="1.9" height="88.50" fill="#4472c4"/>
<rect x="467.14" y="652.74" width="1.9" height="71.86" fill="#ed7d31"/>
<text x="-14" y="0" font-size="7.3" fill="#4a4a4a" transform="translate(469.59,728.2) rotate(-90)" textLength="14" lengthAdjust="spacingAndGlyphs">1969</text>
<line x1="467.29" y1="743.4" x2="467.29" y2="745.1" stroke="#595959" stroke-width="0.9"/>
<rect x="472.72" y="636.10" width="1.9" height="88.50" fill="#4472c4"/>
<rect x="475.17" y="636.10" width="1.9" height="88.50" fill="#ed7d31"/>
<text x="-14" y="0" font-size="7.3" fill="#4a4a4a" transform="translate(477.62,728.2) rotate(-90)" textLength="14" lengthAdjust="spacingAndGlyphs">1968</text>
<line x1="475.32" y1="743.4" x2="475.32" y2="745.1" stroke="#595959" stroke-width="0.9"/>
<rect x="480.75" y="652.74" width="1.9" height="71.86" fill="#4472c4"/>
<rect x="483.20" y="636.10" width="1.9" height="88.50" fill="#ed7d31"/>
<text x="-14" y="0" font-size="7.3" fill="#4a4a4a" transform="translate(485.65,728.2) rotate(-90)" textLength="14" lengthAdjust="spacingAndGlyphs">1936</text>
<line x1="483.35" y1="743.4" x2="483.35" y2="745.1" stroke="#595959" stroke-width="0.9"/>
<rect x="488.78" y="636.10" width="1.9" height="88.50" fill="#4472c4"/>
<rect x="491.23" y="636.10" width="1.9" height="88.50" fill="#ed7d31"/>
<text x="-14" y="0" font-size="7.3" fill="#4a4a4a" transform="translate(493.68,728.2) rotate(-90)" textLength="14" lengthAdjust="spacingAndGlyphs">1935</text>
<line x1="491.38" y1="743.4" x2="491.38" y2="745.1" stroke="#595959" stroke-width="0.9"/>
<rect x="496.81" y="636.10" width="1.9" height="88.50" fill="#4472c4"/>
<rect x="499.26" y="636.10" width="1.9" height="88.50" fill="#ed7d31"/>
<text x="-14" y="0" font-size="7.3" fill="#4a4a4a" transform="translate(501.71,728.2) rotate(-90)" textLength="14" lengthAdjust="spacingAndGlyphs">1908</text>
<line x1="499.41" y1="743.4" x2="499.41" y2="745.1" stroke="#595959" stroke-width="0.9"/>
<rect x="504.84" y="636.10" width="1.9" height="88.50" fill="#4472c4"/>
<rect x="507.29" y="636.10" width="1.9" height="88.50" fill="#ed7d31"/>
<text x="-14" y="0" font-size="7.3" fill="#4a4a4a" transform="translate(509.74,728.2) rotate(-90)" textLength="14" lengthAdjust="spacingAndGlyphs">1907</text>
<line x1="507.44" y1="743.4" x2="507.44" y2="745.1" stroke="#595959" stroke-width="0.9"/>
<rect x="512.87" y="645.48" width="1.9" height="79.12" fill="#4472c4"/>
<rect x="515.32" y="636.10" width="1.9" height="88.50" fill="#ed7d31"/>
<text x="-14" y="0" font-size="7.3" fill="#4a4a4a" transform="translate(517.77,728.2) rotate(-90)" textLength="14" lengthAdjust="spacingAndGlyphs">1873</text>
<line x1="515.47" y1="743.4" x2="515.47" y2="745.1" stroke="#595959" stroke-width="0.9"/>
<rect x="520.90" y="636.10" width="1.9" height="88.50" fill="#4472c4"/>
<rect x="523.35" y="636.10" width="1.9" height="88.50" fill="#ed7d31"/>
<text x="-14" y="0" font-size="7.3" fill="#4a4a4a" transform="translate(525.80,728.2) rotate(-90)" textLength="14" lengthAdjust="spacingAndGlyphs">1872</text>
<line x1="523.50" y1="743.4" x2="523.50" y2="745.1" stroke="#595959" stroke-width="0.9"/>
<rect x="528.93" y="636.10" width="1.9" height="88.50" fill="#4472c4"/>
<rect x="531.38" y="645.48" width="1.9" height="79.12" fill="#ed7d31"/>
<text x="-14" y="0" font-size="7.3" fill="#4a4a4a" transform="translate(533.83,728.2) rotate(-90)" textLength="14" lengthAdjust="spacingAndGlyphs">1825</text>
<line x1="531.53" y1="743.4" x2="531.53" y2="745.1" stroke="#595959" stroke-width="0.9"/>
<rect x="536.96" y="636.10" width="1.9" height="88.50" fill="#4472c4"/>
<rect x="539.41" y="636.10" width="1.9" height="88.50" fill="#ed7d31"/>
<text x="-14" y="0" font-size="7.3" fill="#4a4a4a" transform="translate(541.86,728.2) rotate(-90)" textLength="14" lengthAdjust="spacingAndGlyphs">1824</text>
<line x1="539.56" y1="743.4" x2="539.56" y2="745.1" stroke="#595959" stroke-width="0.9"/>
<rect x="544.99" y="636.10" width="1.9" height="88.50" fill="#4472c4"/>
<rect x="547.44" y="636.10" width="1.9" height="88.50" fill="#ed7d31"/>
<text x="-14" y="0" font-size="7.3" fill="#4a4a4a" transform="translate(549.89,728.2) rotate(-90)" textLength="14" lengthAdjust="spacingAndGlyphs">1822</text>
<line x1="547.59" y1="743.4" x2="547.59" y2="745.1" stroke="#595959" stroke-width="0.9"/>
<rect x="553.02" y="636.10" width="1.9" height="88.50" fill="#4472c4"/>
<rect x="555.47" y="636.10" width="1.9" height="88.50" fill="#ed7d31"/>
<text x="-14" y="0" font-size="7.3" fill="#4a4a4a" transform="translate(557.92,728.2) rotate(-90)" textLength="14" lengthAdjust="spacingAndGlyphs">1821</text>
<line x1="555.62" y1="743.4" x2="555.62" y2="745.1" stroke="#595959" stroke-width="0.9"/>
<rect x="561.05" y="636.10" width="1.9" height="88.50" fill="#4472c4"/>
<rect x="563.50" y="636.10" width="1.9" height="88.50" fill="#ed7d31"/>
<text x="-14" y="0" font-size="7.3" fill="#4a4a4a" transform="translate(565.95,728.2) rotate(-90)" textLength="14" lengthAdjust="spacingAndGlyphs">1805</text>
<line x1="563.65" y1="743.4" x2="563.65" y2="745.1" stroke="#595959" stroke-width="0.9"/>
<rect x="569.08" y="636.10" width="1.9" height="88.50" fill="#4472c4"/>
<rect x="571.53" y="636.10" width="1.9" height="88.50" fill="#ed7d31"/>
<text x="-14" y="0" font-size="7.3" fill="#4a4a4a" transform="translate(573.98,728.2) rotate(-90)" textLength="14" lengthAdjust="spacingAndGlyphs">1804</text>
<line x1="571.68" y1="743.4" x2="571.68" y2="745.1" stroke="#595959" stroke-width="0.9"/>
<rect x="585.14" y="636.10" width="1.9" height="88.50" fill="#4472c4"/>
<rect x="587.59" y="636.10" width="1.9" height="88.50" fill="#ed7d31"/>
<text x="-14" y="0" font-size="7.3" fill="#4a4a4a" transform="translate(590.04,728.2) rotate(-90)" textLength="14" lengthAdjust="spacingAndGlyphs">1952</text>
<line x1="587.74" y1="743.4" x2="587.74" y2="745.1" stroke="#595959" stroke-width="0.9"/>
<rect x="593.17" y="636.10" width="1.9" height="88.50" fill="#4472c4"/>
<rect x="595.62" y="636.10" width="1.9" height="88.50" fill="#ed7d31"/>
<text x="-14" y="0" font-size="7.3" fill="#4a4a4a" transform="translate(598.07,728.2) rotate(-90)" textLength="14" lengthAdjust="spacingAndGlyphs">1950</text>
<line x1="595.77" y1="743.4" x2="595.77" y2="745.1" stroke="#595959" stroke-width="0.9"/>
<rect x="601.20" y="656.01" width="1.9" height="68.59" fill="#4472c4"/>
<rect x="603.65" y="645.84" width="1.9" height="78.76" fill="#ed7d31"/>
<text x="-14" y="0" font-size="7.3" fill="#4a4a4a" transform="translate(606.10,728.2) rotate(-90)" textLength="14" lengthAdjust="spacingAndGlyphs">1873</text>
<line x1="603.80" y1="743.4" x2="603.80" y2="745.1" stroke="#595959" stroke-width="0.9"/>
<rect x="609.23" y="656.01" width="1.9" height="68.59" fill="#4472c4"/>
<rect x="611.68" y="645.84" width="1.9" height="78.76" fill="#ed7d31"/>
<text x="-14" y="0" font-size="7.3" fill="#4a4a4a" transform="translate(614.13,728.2) rotate(-90)" textLength="14" lengthAdjust="spacingAndGlyphs">1871</text>
<line x1="611.83" y1="743.4" x2="611.83" y2="745.1" stroke="#595959" stroke-width="0.9"/>
<rect x="617.26" y="636.10" width="1.9" height="88.50" fill="#4472c4"/>
<rect x="619.71" y="636.10" width="1.9" height="88.50" fill="#ed7d31"/>
<text x="-14" y="0" font-size="7.3" fill="#4a4a4a" transform="translate(622.16,728.2) rotate(-90)" textLength="14" lengthAdjust="spacingAndGlyphs">1851</text>
<line x1="619.86" y1="743.4" x2="619.86" y2="745.1" stroke="#595959" stroke-width="0.9"/>
<rect x="625.29" y="636.10" width="1.9" height="88.50" fill="#4472c4"/>
<rect x="627.74" y="636.10" width="1.9" height="88.50" fill="#ed7d31"/>
<text x="-14" y="0" font-size="7.3" fill="#4a4a4a" transform="translate(630.19,728.2) rotate(-90)" textLength="14" lengthAdjust="spacingAndGlyphs">1849</text>
<line x1="627.89" y1="743.4" x2="627.89" y2="745.1" stroke="#595959" stroke-width="0.9"/>
<rect x="633.32" y="636.10" width="1.9" height="88.50" fill="#4472c4"/>
<rect x="635.77" y="636.10" width="1.9" height="88.50" fill="#ed7d31"/>
<text x="-14" y="0" font-size="7.3" fill="#4a4a4a" transform="translate(638.22,728.2) rotate(-90)" textLength="14" lengthAdjust="spacingAndGlyphs">1832</text>
<line x1="635.92" y1="743.4" x2="635.92" y2="745.1" stroke="#595959" stroke-width="0.9"/>
<rect x="641.35" y="636.10" width="1.9" height="88.50" fill="#4472c4"/>
<rect x="643.80" y="636.10" width="1.9" height="88.50" fill="#ed7d31"/>
<text x="-14" y="0" font-size="7.3" fill="#4a4a4a" transform="translate(646.25,728.2) rotate(-90)" textLength="14" lengthAdjust="spacingAndGlyphs">1830</text>
<line x1="643.95" y1="743.4" x2="643.95" y2="745.1" stroke="#595959" stroke-width="0.9"/>
<rect x="649.38" y="636.10" width="1.9" height="88.50" fill="#4472c4"/>
<rect x="651.83" y="636.10" width="1.9" height="88.50" fill="#ed7d31"/>
<text x="-14" y="0" font-size="7.3" fill="#4a4a4a" transform="translate(654.28,728.2) rotate(-90)" textLength="14" lengthAdjust="spacingAndGlyphs">1823</text>
<line x1="651.98" y1="743.4" x2="651.98" y2="745.1" stroke="#595959" stroke-width="0.9"/>
<rect x="657.41" y="636.10" width="1.9" height="88.50" fill="#4472c4"/>
<rect x="659.86" y="636.10" width="1.9" height="88.50" fill="#ed7d31"/>
<text x="-14" y="0" font-size="7.3" fill="#4a4a4a" transform="translate(662.31,728.2) rotate(-90)" textLength="14" lengthAdjust="spacingAndGlyphs">1821</text>
<line x1="660.01" y1="743.4" x2="660.01" y2="745.1" stroke="#595959" stroke-width="0.9"/>
<text x="286.00" y="751.70" font-size="8.7" text-anchor="start" fill="#262626" font-weight="bold"  textLength="17.40" lengthAdjust="spacingAndGlyphs">CHH</text>
<text x="518.60" y="751.70" font-size="8.7" text-anchor="start" fill="#262626" font-weight="bold"  textLength="10.80" lengthAdjust="spacingAndGlyphs">CG</text>
<text x="616.70" y="751.70" font-size="8.7" text-anchor="start" fill="#262626" font-weight="bold"  textLength="17.20" lengthAdjust="spacingAndGlyphs">CHG</text>
<text x="-45.0" y="0" font-size="10.4" font-weight="bold" text-anchor="start" fill="#000" transform="translate(9.40,676.10) rotate(-90)" dy="0.35em" textLength="90" lengthAdjust="spacingAndGlyphs">Methylation level(%)</text>
<rect x="613.1" y="619.0" width="3.1" height="3.1" fill="#4472c4"/>
<text x="617.40" y="623.00" font-size="6.7" text-anchor="start" fill="#595959" font-weight="normal" >Fuji</text>
<rect x="634.0" y="619.0" width="3.1" height="3.1" fill="#ed7d31"/>
<text x="638.00" y="623.00" font-size="6.7" text-anchor="start" fill="#595959" font-weight="normal" >M_Fuji</text>
<line x1="68.2" y1="808.6" x2="68.2" y2="910.60" stroke="#404040" stroke-width="1.1"/>
<line x1="68.2" y1="910.60" x2="639.9" y2="910.60" stroke="#404040" stroke-width="1.1"/>
<text x="62.90" y="913.00" font-size="6.7" text-anchor="end" fill="#595959" font-weight="normal" >0</text>
<text x="62.90" y="896.00" font-size="6.7" text-anchor="end" fill="#595959" font-weight="normal" >20</text>
<text x="62.90" y="879.00" font-size="6.7" text-anchor="end" fill="#595959" font-weight="normal" >40</text>
<text x="62.90" y="862.00" font-size="6.7" text-anchor="end" fill="#595959" font-weight="normal" >60</text>
<text x="62.90" y="845.00" font-size="6.7" text-anchor="end" fill="#595959" font-weight="normal" >80</text>
<text x="62.90" y="828.00" font-size="6.7" text-anchor="end" fill="#595959" font-weight="normal" >100</text>
<text x="62.90" y="811.00" font-size="6.7" text-anchor="end" fill="#595959" font-weight="normal" >120</text>
<rect x="72.20" y="825.60" width="3.80" height="85.00" fill="#4472c4"/>
<rect x="76.60" y="825.60" width="3.80" height="85.00" fill="#ed7d31"/>
<text x="0" y="0" font-size="7.1" text-anchor="end" fill="#505050" transform="translate(77.20,918.20) rotate(-45)">-1154</text>
<rect x="88.53" y="825.60" width="3.80" height="85.00" fill="#4472c4"/>
<rect x="92.93" y="825.60" width="3.80" height="85.00" fill="#ed7d31"/>
<text x="0" y="0" font-size="7.1" text-anchor="end" fill="#505050" transform="translate(93.53,918.20) rotate(-45)">-1132</text>
<rect x="104.86" y="825.60" width="3.80" height="85.00" fill="#4472c4"/>
<rect x="109.26" y="825.60" width="3.80" height="85.00" fill="#ed7d31"/>
<text x="0" y="0" font-size="7.1" text-anchor="end" fill="#505050" transform="translate(109.86,918.20) rotate(-45)">-1128</text>
<rect x="121.19" y="825.60" width="3.80" height="85.00" fill="#4472c4"/>
<rect x="125.59" y="825.60" width="3.80" height="85.00" fill="#ed7d31"/>
<text x="0" y="0" font-size="7.1" text-anchor="end" fill="#505050" transform="translate(126.19,918.20) rotate(-45)">-1127</text>
<rect x="137.52" y="825.60" width="3.80" height="85.00" fill="#4472c4"/>
<rect x="141.92" y="825.60" width="3.80" height="85.00" fill="#ed7d31"/>
<text x="0" y="0" font-size="7.1" text-anchor="end" fill="#505050" transform="translate(142.52,918.20) rotate(-45)">-1117</text>
<rect x="153.85" y="825.60" width="3.80" height="85.00" fill="#4472c4"/>
<rect x="158.25" y="825.60" width="3.80" height="85.00" fill="#ed7d31"/>
<text x="0" y="0" font-size="7.1" text-anchor="end" fill="#505050" transform="translate(158.85,918.20) rotate(-45)">-1114</text>
<rect x="170.18" y="825.60" width="3.80" height="85.00" fill="#4472c4"/>
<rect x="174.58" y="825.60" width="3.80" height="85.00" fill="#ed7d31"/>
<text x="0" y="0" font-size="7.1" text-anchor="end" fill="#505050" transform="translate(175.18,918.20) rotate(-45)">-1107</text>
<rect x="186.51" y="825.60" width="3.80" height="85.00" fill="#4472c4"/>
<rect x="190.91" y="825.60" width="3.80" height="85.00" fill="#ed7d31"/>
<text x="0" y="0" font-size="7.1" text-anchor="end" fill="#505050" transform="translate(191.51,918.20) rotate(-45)">-1104</text>
<rect x="202.84" y="825.60" width="3.80" height="85.00" fill="#4472c4"/>
<rect x="207.24" y="825.60" width="3.80" height="85.00" fill="#ed7d31"/>
<text x="0" y="0" font-size="7.1" text-anchor="end" fill="#505050" transform="translate(207.84,918.20) rotate(-45)">-1099</text>
<rect x="219.17" y="825.60" width="3.80" height="85.00" fill="#4472c4"/>
<rect x="223.57" y="825.60" width="3.80" height="85.00" fill="#ed7d31"/>
<text x="0" y="0" font-size="7.1" text-anchor="end" fill="#505050" transform="translate(224.17,918.20) rotate(-45)">-1098</text>
<rect x="235.50" y="825.60" width="3.80" height="85.00" fill="#4472c4"/>
<rect x="239.90" y="825.60" width="3.80" height="85.00" fill="#ed7d31"/>
<text x="0" y="0" font-size="7.1" text-anchor="end" fill="#505050" transform="translate(240.50,918.20) rotate(-45)">-1094</text>
<rect x="251.83" y="835.38" width="3.80" height="75.23" fill="#4472c4"/>
<rect x="256.23" y="873.62" width="3.80" height="36.98" fill="#ed7d31"/>
<text x="0" y="0" font-size="7.1" text-anchor="end" fill="#505050" transform="translate(256.83,918.20) rotate(-45)">-1093</text>
<rect x="268.16" y="825.60" width="3.80" height="85.00" fill="#4472c4"/>
<rect x="272.56" y="825.60" width="3.80" height="85.00" fill="#ed7d31"/>
<text x="0" y="0" font-size="7.1" text-anchor="end" fill="#505050" transform="translate(273.16,918.20) rotate(-45)">-1081</text>
<rect x="284.49" y="825.60" width="3.80" height="85.00" fill="#4472c4"/>
<rect x="288.89" y="825.60" width="3.80" height="85.00" fill="#ed7d31"/>
<text x="0" y="0" font-size="7.1" text-anchor="end" fill="#505050" transform="translate(289.49,918.20) rotate(-45)">-1073</text>
<rect x="300.82" y="825.60" width="3.80" height="85.00" fill="#4472c4"/>
<rect x="305.22" y="825.60" width="3.80" height="85.00" fill="#ed7d31"/>
<text x="0" y="0" font-size="7.1" text-anchor="end" fill="#505050" transform="translate(305.82,918.20) rotate(-45)">-1061</text>
<rect x="317.15" y="825.60" width="3.80" height="85.00" fill="#4472c4"/>
<rect x="321.55" y="825.60" width="3.80" height="85.00" fill="#ed7d31"/>
<text x="0" y="0" font-size="7.1" text-anchor="end" fill="#505050" transform="translate(322.15,918.20) rotate(-45)">-1060</text>
<rect x="333.48" y="825.60" width="3.80" height="85.00" fill="#4472c4"/>
<rect x="337.88" y="825.60" width="3.80" height="85.00" fill="#ed7d31"/>
<text x="0" y="0" font-size="7.1" text-anchor="end" fill="#505050" transform="translate(338.48,918.20) rotate(-45)">-1054</text>
<rect x="349.81" y="825.60" width="3.80" height="85.00" fill="#4472c4"/>
<rect x="354.21" y="825.60" width="3.80" height="85.00" fill="#ed7d31"/>
<text x="0" y="0" font-size="7.1" text-anchor="end" fill="#505050" transform="translate(354.81,918.20) rotate(-45)">-1044</text>
<rect x="366.14" y="825.60" width="3.80" height="85.00" fill="#4472c4"/>
<rect x="370.54" y="825.60" width="3.80" height="85.00" fill="#ed7d31"/>
<text x="0" y="0" font-size="7.1" text-anchor="end" fill="#505050" transform="translate(371.14,918.20) rotate(-45)">-1038</text>
<rect x="382.47" y="825.60" width="3.80" height="85.00" fill="#4472c4"/>
<rect x="386.87" y="825.60" width="3.80" height="85.00" fill="#ed7d31"/>
<text x="0" y="0" font-size="7.1" text-anchor="end" fill="#505050" transform="translate(387.47,918.20) rotate(-45)">-1031</text>
<rect x="398.80" y="825.60" width="3.80" height="85.00" fill="#4472c4"/>
<rect x="403.20" y="825.60" width="3.80" height="85.00" fill="#ed7d31"/>
<text x="0" y="0" font-size="7.1" text-anchor="end" fill="#505050" transform="translate(403.80,918.20) rotate(-45)">-1029</text>
<rect x="415.13" y="825.60" width="3.80" height="85.00" fill="#4472c4"/>
<rect x="419.53" y="825.60" width="3.80" height="85.00" fill="#ed7d31"/>
<text x="0" y="0" font-size="7.1" text-anchor="end" fill="#505050" transform="translate(420.13,918.20) rotate(-45)">-1025</text>
<rect x="431.46" y="825.60" width="3.80" height="85.00" fill="#4472c4"/>
<rect x="435.86" y="825.60" width="3.80" height="85.00" fill="#ed7d31"/>
<text x="0" y="0" font-size="7.1" text-anchor="end" fill="#505050" transform="translate(436.46,918.20) rotate(-45)">-1014</text>
<rect x="447.79" y="825.60" width="3.80" height="85.00" fill="#4472c4"/>
<rect x="452.19" y="825.60" width="3.80" height="85.00" fill="#ed7d31"/>
<text x="0" y="0" font-size="7.1" text-anchor="end" fill="#505050" transform="translate(452.79,918.20) rotate(-45)">-1010</text>
<rect x="480.45" y="835.38" width="3.80" height="75.23" fill="#4472c4"/>
<rect x="484.85" y="882.98" width="3.80" height="27.62" fill="#ed7d31"/>
<text x="0" y="0" font-size="7.1" text-anchor="end" fill="#505050" transform="translate(485.45,918.20) rotate(-45)">-1124</text>
<rect x="496.78" y="825.60" width="3.80" height="85.00" fill="#4472c4"/>
<rect x="501.18" y="825.60" width="3.80" height="85.00" fill="#ed7d31"/>
<text x="0" y="0" font-size="7.1" text-anchor="end" fill="#505050" transform="translate(501.78,918.20) rotate(-45)">-1123</text>
<rect x="513.11" y="825.60" width="3.80" height="85.00" fill="#4472c4"/>
<rect x="517.51" y="825.60" width="3.80" height="85.00" fill="#ed7d31"/>
<text x="0" y="0" font-size="7.1" text-anchor="end" fill="#505050" transform="translate(518.11,918.20) rotate(-45)">-1077</text>
<rect x="529.44" y="825.60" width="3.80" height="85.00" fill="#4472c4"/>
<rect x="533.84" y="825.60" width="3.80" height="85.00" fill="#ed7d31"/>
<text x="0" y="0" font-size="7.1" text-anchor="end" fill="#505050" transform="translate(534.44,918.20) rotate(-45)">-1076</text>
<rect x="545.77" y="825.60" width="3.80" height="85.00" fill="#4472c4"/>
<rect x="550.17" y="825.60" width="3.80" height="85.00" fill="#ed7d31"/>
<text x="0" y="0" font-size="7.1" text-anchor="end" fill="#505050" transform="translate(550.77,918.20) rotate(-45)">-1057</text>
<rect x="562.10" y="825.60" width="3.80" height="85.00" fill="#4472c4"/>
<rect x="566.50" y="825.60" width="3.80" height="85.00" fill="#ed7d31"/>
<text x="0" y="0" font-size="7.1" text-anchor="end" fill="#505050" transform="translate(567.10,918.20) rotate(-45)">-1056</text>
<rect x="594.76" y="835.12" width="3.80" height="75.48" fill="#4472c4"/>
<rect x="599.16" y="882.89" width="3.80" height="27.71" fill="#ed7d31"/>
<text x="0" y="0" font-size="7.1" text-anchor="end" fill="#505050" transform="translate(599.76,918.20) rotate(-45)">-1122</text>
<rect x="611.09" y="825.60" width="3.80" height="85.00" fill="#4472c4"/>
<rect x="615.49" y="825.60" width="3.80" height="85.00" fill="#ed7d31"/>
<text x="0" y="0" font-size="7.1" text-anchor="end" fill="#505050" transform="translate(616.09,918.20) rotate(-45)">-1075</text>
<rect x="627.42" y="825.60" width="3.80" height="85.00" fill="#4472c4"/>
<rect x="631.82" y="825.60" width="3.80" height="85.00" fill="#ed7d31"/>
<text x="0" y="0" font-size="7.1" text-anchor="end" fill="#505050" transform="translate(632.42,918.20) rotate(-45)">-1055</text>
<text x="292.90" y="940.30" font-size="8.7" text-anchor="start" fill="#262626" font-weight="bold"  textLength="17.40" lengthAdjust="spacingAndGlyphs">CHH</text>
<text x="518.60" y="940.40" font-size="8.7" text-anchor="start" fill="#262626" font-weight="bold"  textLength="10.60" lengthAdjust="spacingAndGlyphs">CG</text>
<text x="602.10" y="940.80" font-size="8.7" text-anchor="start" fill="#262626" font-weight="bold"  textLength="16.80" lengthAdjust="spacingAndGlyphs">CHG</text>
<text x="-45.0" y="0" font-size="10.4" font-weight="bold" text-anchor="start" fill="#000" transform="translate(35.60,862.30) rotate(-90)" dy="0.35em" textLength="90" lengthAdjust="spacingAndGlyphs">Methylation level(%)</text>
<rect x="575.6" y="812.3" width="3.1" height="3.3" fill="#4472c4"/>
<text x="580.30" y="816.20" font-size="7.3" text-anchor="start" fill="#595959" font-weight="normal"  textLength="11.80" lengthAdjust="spacingAndGlyphs">Fuji</text>
<rect x="607.8" y="812.3" width="3.1" height="3.3" fill="#ed7d31"/>
<text x="612.80" y="816.20" font-size="7.3" text-anchor="start" fill="#595959" font-weight="normal"  textLength="22.20" lengthAdjust="spacingAndGlyphs">M_Fuji</text></svg></body></html>
